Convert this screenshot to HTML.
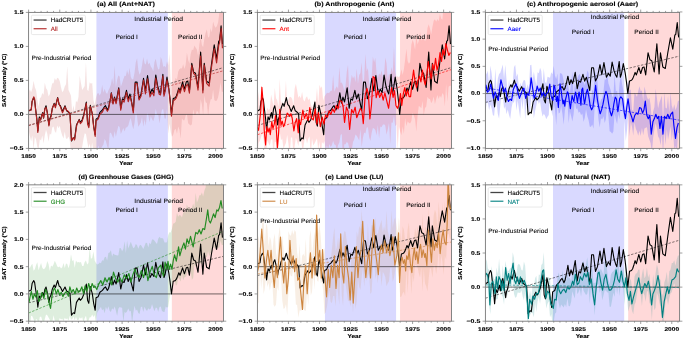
<!DOCTYPE html>
<html><head><meta charset="utf-8"><style>
html,body{margin:0;padding:0;background:#fff;width:685px;height:340px;overflow:hidden;}
svg{display:block;will-change:transform;}
text{font-family:"Liberation Sans", sans-serif;text-rendering:geometricPrecision;}
.tk{font-size:5.5px;font-weight:bold;fill:#000;stroke:#000;stroke-width:0.12px;}
.lb{font-size:5.6px;font-weight:bold;fill:#000;stroke:#000;stroke-width:0.12px;}
.tt{font-size:6.25px;font-weight:bold;fill:#000;stroke:#000;stroke-width:0.12px;}
.pl{font-size:6.25px;fill:#000;stroke:#000;stroke-width:0.06px;}
.lg{font-size:6.25px;fill:#000;stroke:#000;stroke-width:0.1px;}
</style></head><body>
<svg width="685" height="340" viewBox="0 0 685 340">
<rect width="685" height="340" fill="#fff"/>
<clipPath id="clipa"><rect x="28.6" y="12.4" width="194.85" height="136"/></clipPath>
<g clip-path="url(#clipa)">
<rect x="96.42" y="12.4" width="71.43" height="136" fill="#d9d9ff"/>
<rect x="171.84" y="12.4" width="51.61" height="136" fill="#ffd9d9"/>
<polygon points="27.98,92.46 28.6,92.46 29.85,89.24 31.09,92.25 32.34,88.4 33.59,80.76 34.83,87.14 36.08,90.17 37.33,99.49 38.57,106.76 39.82,98.43 41.07,97.03 42.31,93 43.56,94.85 44.81,82.86 46.05,88.24 47.3,89.94 48.55,96.41 49.79,94.27 51.04,88.56 52.29,83.37 53.53,83.28 54.78,77.92 56.03,80.54 57.27,77.75 58.52,78.58 59.77,81.19 61.01,87.33 62.26,92.18 63.51,90.4 64.75,86.57 66,84.15 67.25,66.36 68.49,89.92 69.74,92.71 70.99,95.64 72.23,112 73.48,105.24 74.73,112.16 75.97,100.85 77.22,102.44 78.47,97.03 79.71,75.63 80.96,83.25 82.21,90.05 83.45,88.1 84.7,85.99 85.95,62.17 87.19,89.77 88.44,91.04 89.69,82.31 90.93,83.68 92.18,82.89 93.43,99.95 94.67,104.86 95.92,98.07 97.17,93.83 98.41,92.93 99.66,95.43 100.91,93.25 102.15,84.99 103.4,92.67 104.65,88.82 105.89,92.41 107.14,93.98 108.39,90.43 109.63,88.01 110.88,84.81 112.12,78.08 113.37,84.73 114.62,65.47 115.86,87.9 117.11,79.99 118.36,75.57 119.6,76.49 120.85,86.67 122.1,83.14 123.34,79.31 124.59,75.77 125.84,76.06 127.08,70.11 128.33,74.94 129.58,68.02 130.82,77.11 132.07,79.51 133.32,79.12 134.56,72.48 135.81,62.15 137.06,58.15 138.3,69.84 139.55,74.83 140.8,72.04 142.04,65.51 143.29,57.08 144.54,63.22 145.78,64.55 147.03,58.57 148.28,64.4 149.52,62.71 150.77,66.48 152.02,68.37 153.26,71.55 154.51,62.09 155.76,58.82 157,65.59 158.25,69.73 159.5,68.59 160.74,56.97 161.99,60 163.24,66.8 164.48,66.04 165.73,67.47 166.98,61.17 168.22,65.08 169.47,54.04 170.72,83.61 171.96,86.21 173.21,81.32 174.46,81.84 175.7,77.8 176.95,79.8 178.2,71.72 179.44,69.3 180.69,68.15 181.94,68.42 183.18,64.31 184.43,69.12 185.68,64.73 186.92,52.69 188.17,59.9 189.42,63.83 190.66,54.24 191.91,49.45 193.16,50.23 194.4,45.38 195.65,47.8 196.9,49.59 198.14,56.28 199.39,44.37 200.64,36.7 201.88,45.09 203.13,47.14 204.38,38.62 205.62,33.1 206.87,29.4 208.12,37.85 209.36,36.55 210.61,28.21 211.86,32.38 213.1,21.61 214.35,25.71 215.6,27.82 216.84,26.25 218.09,22.53 219.34,13.12 220.58,6.09 221.83,12.53 223.45,12.53 223.45,91.72 221.83,91.72 220.58,82.22 219.34,91.08 218.09,97.28 216.84,100.53 215.6,100.93 214.35,100.1 213.1,89.58 211.86,98.96 210.61,99.55 209.36,104.92 208.12,115.52 206.87,102.92 205.62,102.16 204.38,95.4 203.13,115.23 201.88,104.37 200.64,99.23 199.39,115.18 198.14,112.15 196.9,110.86 195.65,114.45 194.4,114.72 193.16,109.28 191.91,124.37 190.66,125.6 189.42,124.62 188.17,123.26 186.92,114.05 185.68,115.51 184.43,120.31 183.18,120.22 181.94,118.19 180.69,138.52 179.44,129.8 178.2,126.41 176.95,133.8 175.7,128.83 174.46,129.96 173.21,134.75 171.96,136.65 170.72,132 169.47,123.78 168.22,133.75 166.98,108.67 165.73,118.82 164.48,118.31 163.24,109.12 161.99,109.69 160.74,115.14 159.5,123.59 158.25,114.44 157,114.69 155.76,108.78 154.51,117 153.26,121.31 152.02,118.98 150.77,116.15 149.52,122.27 148.28,114.88 147.03,112.89 145.78,125.87 144.54,119.2 143.29,126.78 142.04,116.72 140.8,122.52 139.55,124.86 138.3,126.8 137.06,116.96 135.81,111.22 134.56,122.79 133.32,129.28 132.07,124.44 130.82,117.99 129.58,120.74 128.33,125.42 127.08,127.18 125.84,127.43 124.59,131.45 123.34,128.12 122.1,130.99 120.85,133.94 119.6,126.98 118.36,125.82 117.11,130.97 115.86,136.63 114.62,130.9 113.37,138.6 112.12,135.39 110.88,132.62 109.63,133.38 108.39,149.73 107.14,146.02 105.89,140.92 104.65,139.07 103.4,144.46 102.15,146.51 100.91,148.86 99.66,149.87 98.41,145.48 97.17,149.89 95.92,151.54 94.67,155.45 93.43,153.35 92.18,142.6 90.93,151.64 89.69,143.48 88.44,147.97 87.19,141.22 85.95,134.03 84.7,133.31 83.45,139.26 82.21,146.65 80.96,153.05 79.71,154.61 78.47,155.15 77.22,163.09 75.97,156.9 74.73,157.63 73.48,158.41 72.23,155.46 70.99,153.98 69.74,140.23 68.49,136.58 67.25,138.75 66,138.7 64.75,131.41 63.51,138.61 62.26,135.5 61.01,131.59 59.77,125.78 58.52,128.17 57.27,125.48 56.03,132.95 54.78,131.15 53.53,126.48 52.29,127.48 51.04,134.68 49.79,133.44 48.55,141.87 47.3,134.08 46.05,129.65 44.81,135.2 43.56,143.39 42.31,135.5 41.07,140.51 39.82,139.13 38.57,148.85 37.33,146.95 36.08,139.83 34.83,136.72 33.59,149.7 32.34,135.16 31.09,141.23 29.85,135.95 28.6,129.85 27.98,129.85" fill="#b22222" fill-opacity="0.13" stroke="none"/>
<line x1="28.6" x2="223.45" y1="114.4" y2="114.4" stroke="#000" stroke-width="0.7" stroke-opacity="0.8"/>
<line x1="28.6" y1="125.48" x2="223.45" y2="67.55" stroke="#000" stroke-width="0.6" stroke-opacity="0.85" stroke-dasharray="2.4,1.5"/>
<line x1="28.6" y1="125.48" x2="223.45" y2="70.74" stroke="#b22222" stroke-width="0.6" stroke-dasharray="2.4,1.5"/>
<text x="158.62" y="20.6" text-anchor="middle" textLength="48.6" lengthAdjust="spacingAndGlyphs" class="pl">Industrial Period</text>
<text x="126.65" y="39.25" text-anchor="middle" textLength="22.5" lengthAdjust="spacingAndGlyphs" class="pl">Period I</text>
<text x="190.29" y="39.25" text-anchor="middle" textLength="24.5" lengthAdjust="spacingAndGlyphs" class="pl">Period II</text>
<text x="61.45" y="60.1" text-anchor="middle" textLength="59.9" lengthAdjust="spacingAndGlyphs" class="pl">Pre-Industrial Period</text>
<polyline points="28.6,111 29.1,110.8 31.22,109.5 32.09,101.48 33.71,97.81 34.58,99.71 35.46,107.6 36.83,118.82 37.83,131.06 38.7,122.56 39.32,116.92 40.57,119.84 41.69,115.76 42.69,112.63 43.56,118.14 44.81,108.96 46.05,105.76 47.3,112.63 48.92,125.01 49.79,118.82 51.04,115.76 52.29,108.48 54.16,103.38 55.4,106.38 57.65,97.6 59.14,104.61 60.39,105.76 62.51,111.41 65,105.76 66.62,110.8 68.37,112.02 69.99,113.92 71.48,140.92 73.35,137.86 74.6,138.88 76.47,124.94 77.09,123.72 79.21,119.43 80.34,122.42 82.08,119.98 83.7,115.01 86.32,102.16 87.57,122.42 88.81,126.1 90.31,105.22 92.3,113.92 93.67,126.1 95.17,134.8 96.04,119.16 98.16,117.8 99.91,112.36 102.4,109.98 104.27,106.92 105.52,105.7 107.39,109.98 108.51,107.6 110.01,100.8 111.38,92.71 113,103.18 114.49,97.13 116.11,101.96 118.73,87.88 120.73,108.28 122.47,98.9 124.09,100.12 126.46,90.33 128.21,98.9 129.95,94 131.45,101.48 133.32,110.59 135.19,82.17 137.06,82.17 139.05,98.76 141.05,94 143.54,78.36 145.41,90.8 147.53,75.64 150.02,94 152.02,89.24 153.89,92.64 155.76,74.96 157.63,85.84 159.25,91.28 160.49,94 162.86,74.28 163.99,94 165.11,89.92 166.98,77 168.85,88.56 170.09,99.44 171.47,114.4 173.21,98.62 175.2,97.81 176.33,96.04 177.57,92.3 178.82,88.02 180.07,91.14 182.56,81.83 184.43,89.31 186.3,81.83 187.8,81.22 189.42,91.14 191.79,63.4 193.66,72.1 195.53,73.26 198.02,87.4 200.64,52.11 202.88,89.92 204.25,63.4 206.62,81.22 209.11,83.12 211.61,63.4 214.22,44.77 216.59,58.91 218.71,41.1 219.59,40.48 221.08,25.73 222.45,44.16" fill="none" stroke="#000" stroke-width="1.1" stroke-linejoin="round"/>
<polyline points="28.6,110.86 29.1,110.24 31.22,110.12 32.09,101.51 33.71,96.82 34.58,98.73 35.46,108.73 36.83,119.75 37.83,132.43 38.7,122.89 39.32,118.37 40.57,120.15 41.69,115.57 42.69,113.47 43.56,117.91 44.81,108.98 46.05,107.35 47.3,112.78 48.92,126 49.79,119.4 51.04,116.72 52.29,108.35 54.16,103.97 55.4,107.75 57.65,97.96 59.14,104.35 60.39,106.81 62.51,112.72 65,106.67 66.62,110.23 68.37,111.38 69.99,114.13 71.48,140.53 73.35,137.65 74.6,139.97 76.47,126.83 77.09,124.09 79.21,120.1 80.34,123.65 82.08,121.6 83.7,116.17 86.32,103.19 87.57,124.02 88.81,127.65 90.31,106.35 92.3,113.99 93.67,126.93 95.17,136.48 96.04,120.87 98.16,119.06 99.91,114.33 102.4,112 104.27,108.12 105.52,108.08 107.39,111.32 108.51,109.29 110.01,101.57 111.38,93.39 113,104.04 114.49,98.02 116.11,103.74 118.73,88.9 120.73,110.23 122.47,100.24 124.09,102.16 126.46,92.08 128.21,101.72 129.95,96.36 131.45,101.88 133.32,113.04 135.19,83.4 137.06,83.54 139.05,99.96 141.05,95.91 143.54,79.98 145.41,93.9 147.53,78.75 150.02,96.81 152.02,92.21 153.89,95.78 155.76,78.05 157.63,87.81 159.25,94.27 160.49,94.93 162.86,75.99 163.99,96.11 165.11,91.6 166.98,79.91 168.85,89.7 170.09,100.84 171.47,116.13 173.21,101.05 175.2,99.28 176.33,97.8 177.57,94.31 178.82,89.35 180.07,93.26 182.56,84.72 184.43,91.72 186.3,85.24 187.8,84.66 189.42,93.17 191.79,65.3 193.66,73.53 195.53,75.04 198.02,90.06 200.64,56.05 202.88,92.81 204.25,65.12 206.62,83.35 209.11,86.12 211.61,66.52 214.22,48.58 216.59,62.87 218.71,45.37 219.59,42.55 221.08,28.5 222.45,48.31" fill="none" stroke="#b22222" stroke-width="1.15" stroke-linejoin="round"/>
</g>
<rect x="31.4" y="15.2" width="54" height="19.4" rx="1.2" fill="#fff" fill-opacity="0.8" stroke="#d8d8d8" stroke-width="0.6"/>
<line x1="33.6" x2="46.6" y1="20.05" y2="20.05" stroke="#444" stroke-width="1.3"/>
<line x1="33.6" x2="46.6" y1="28.75" y2="28.75" stroke="#b22222" stroke-width="1.1"/>
<text x="50.8" y="22.35" text-anchor="start" textLength="32.5" lengthAdjust="spacingAndGlyphs" class="lg">HadCRUT5</text>
<text x="50.8" y="31.1" text-anchor="start" class="lg" style="fill:#b22222;stroke:#b22222">All</text>
<rect x="28.6" y="12.4" width="194.85" height="136" fill="none" stroke="#777" stroke-width="0.9"/>
<line x1="28.6" x2="28.6" y1="148.4" y2="151.2" stroke="#777" stroke-width="0.7"/>
<line x1="28.6" x2="28.6" y1="12.4" y2="9.6" stroke="#777" stroke-width="0.7"/>
<text x="28.6" y="157.9" text-anchor="middle" textLength="14.6" lengthAdjust="spacingAndGlyphs" class="tk">1850</text>
<line x1="34.83" x2="34.83" y1="148.4" y2="149.9" stroke="#777" stroke-width="0.7"/>
<line x1="34.83" x2="34.83" y1="12.4" y2="10.9" stroke="#777" stroke-width="0.7"/>
<line x1="41.07" x2="41.07" y1="148.4" y2="149.9" stroke="#777" stroke-width="0.7"/>
<line x1="41.07" x2="41.07" y1="12.4" y2="10.9" stroke="#777" stroke-width="0.7"/>
<line x1="47.3" x2="47.3" y1="148.4" y2="149.9" stroke="#777" stroke-width="0.7"/>
<line x1="47.3" x2="47.3" y1="12.4" y2="10.9" stroke="#777" stroke-width="0.7"/>
<line x1="53.53" x2="53.53" y1="148.4" y2="149.9" stroke="#777" stroke-width="0.7"/>
<line x1="53.53" x2="53.53" y1="12.4" y2="10.9" stroke="#777" stroke-width="0.7"/>
<line x1="59.77" x2="59.77" y1="148.4" y2="151.2" stroke="#777" stroke-width="0.7"/>
<line x1="59.77" x2="59.77" y1="12.4" y2="9.6" stroke="#777" stroke-width="0.7"/>
<text x="59.77" y="157.9" text-anchor="middle" textLength="14.6" lengthAdjust="spacingAndGlyphs" class="tk">1875</text>
<line x1="66" x2="66" y1="148.4" y2="149.9" stroke="#777" stroke-width="0.7"/>
<line x1="66" x2="66" y1="12.4" y2="10.9" stroke="#777" stroke-width="0.7"/>
<line x1="72.23" x2="72.23" y1="148.4" y2="149.9" stroke="#777" stroke-width="0.7"/>
<line x1="72.23" x2="72.23" y1="12.4" y2="10.9" stroke="#777" stroke-width="0.7"/>
<line x1="78.47" x2="78.47" y1="148.4" y2="149.9" stroke="#777" stroke-width="0.7"/>
<line x1="78.47" x2="78.47" y1="12.4" y2="10.9" stroke="#777" stroke-width="0.7"/>
<line x1="84.7" x2="84.7" y1="148.4" y2="149.9" stroke="#777" stroke-width="0.7"/>
<line x1="84.7" x2="84.7" y1="12.4" y2="10.9" stroke="#777" stroke-width="0.7"/>
<line x1="90.93" x2="90.93" y1="148.4" y2="151.2" stroke="#777" stroke-width="0.7"/>
<line x1="90.93" x2="90.93" y1="12.4" y2="9.6" stroke="#777" stroke-width="0.7"/>
<text x="90.93" y="157.9" text-anchor="middle" textLength="14.6" lengthAdjust="spacingAndGlyphs" class="tk">1900</text>
<line x1="97.17" x2="97.17" y1="148.4" y2="149.9" stroke="#777" stroke-width="0.7"/>
<line x1="97.17" x2="97.17" y1="12.4" y2="10.9" stroke="#777" stroke-width="0.7"/>
<line x1="103.4" x2="103.4" y1="148.4" y2="149.9" stroke="#777" stroke-width="0.7"/>
<line x1="103.4" x2="103.4" y1="12.4" y2="10.9" stroke="#777" stroke-width="0.7"/>
<line x1="109.63" x2="109.63" y1="148.4" y2="149.9" stroke="#777" stroke-width="0.7"/>
<line x1="109.63" x2="109.63" y1="12.4" y2="10.9" stroke="#777" stroke-width="0.7"/>
<line x1="115.86" x2="115.86" y1="148.4" y2="149.9" stroke="#777" stroke-width="0.7"/>
<line x1="115.86" x2="115.86" y1="12.4" y2="10.9" stroke="#777" stroke-width="0.7"/>
<line x1="122.1" x2="122.1" y1="148.4" y2="151.2" stroke="#777" stroke-width="0.7"/>
<line x1="122.1" x2="122.1" y1="12.4" y2="9.6" stroke="#777" stroke-width="0.7"/>
<text x="122.1" y="157.9" text-anchor="middle" textLength="14.6" lengthAdjust="spacingAndGlyphs" class="tk">1925</text>
<line x1="128.33" x2="128.33" y1="148.4" y2="149.9" stroke="#777" stroke-width="0.7"/>
<line x1="128.33" x2="128.33" y1="12.4" y2="10.9" stroke="#777" stroke-width="0.7"/>
<line x1="134.56" x2="134.56" y1="148.4" y2="149.9" stroke="#777" stroke-width="0.7"/>
<line x1="134.56" x2="134.56" y1="12.4" y2="10.9" stroke="#777" stroke-width="0.7"/>
<line x1="140.8" x2="140.8" y1="148.4" y2="149.9" stroke="#777" stroke-width="0.7"/>
<line x1="140.8" x2="140.8" y1="12.4" y2="10.9" stroke="#777" stroke-width="0.7"/>
<line x1="147.03" x2="147.03" y1="148.4" y2="149.9" stroke="#777" stroke-width="0.7"/>
<line x1="147.03" x2="147.03" y1="12.4" y2="10.9" stroke="#777" stroke-width="0.7"/>
<line x1="153.26" x2="153.26" y1="148.4" y2="151.2" stroke="#777" stroke-width="0.7"/>
<line x1="153.26" x2="153.26" y1="12.4" y2="9.6" stroke="#777" stroke-width="0.7"/>
<text x="153.26" y="157.9" text-anchor="middle" textLength="14.6" lengthAdjust="spacingAndGlyphs" class="tk">1950</text>
<line x1="159.5" x2="159.5" y1="148.4" y2="149.9" stroke="#777" stroke-width="0.7"/>
<line x1="159.5" x2="159.5" y1="12.4" y2="10.9" stroke="#777" stroke-width="0.7"/>
<line x1="165.73" x2="165.73" y1="148.4" y2="149.9" stroke="#777" stroke-width="0.7"/>
<line x1="165.73" x2="165.73" y1="12.4" y2="10.9" stroke="#777" stroke-width="0.7"/>
<line x1="171.96" x2="171.96" y1="148.4" y2="149.9" stroke="#777" stroke-width="0.7"/>
<line x1="171.96" x2="171.96" y1="12.4" y2="10.9" stroke="#777" stroke-width="0.7"/>
<line x1="178.2" x2="178.2" y1="148.4" y2="149.9" stroke="#777" stroke-width="0.7"/>
<line x1="178.2" x2="178.2" y1="12.4" y2="10.9" stroke="#777" stroke-width="0.7"/>
<line x1="184.43" x2="184.43" y1="148.4" y2="151.2" stroke="#777" stroke-width="0.7"/>
<line x1="184.43" x2="184.43" y1="12.4" y2="9.6" stroke="#777" stroke-width="0.7"/>
<text x="184.43" y="157.9" text-anchor="middle" textLength="14.6" lengthAdjust="spacingAndGlyphs" class="tk">1975</text>
<line x1="190.66" x2="190.66" y1="148.4" y2="149.9" stroke="#777" stroke-width="0.7"/>
<line x1="190.66" x2="190.66" y1="12.4" y2="10.9" stroke="#777" stroke-width="0.7"/>
<line x1="196.9" x2="196.9" y1="148.4" y2="149.9" stroke="#777" stroke-width="0.7"/>
<line x1="196.9" x2="196.9" y1="12.4" y2="10.9" stroke="#777" stroke-width="0.7"/>
<line x1="203.13" x2="203.13" y1="148.4" y2="149.9" stroke="#777" stroke-width="0.7"/>
<line x1="203.13" x2="203.13" y1="12.4" y2="10.9" stroke="#777" stroke-width="0.7"/>
<line x1="209.36" x2="209.36" y1="148.4" y2="149.9" stroke="#777" stroke-width="0.7"/>
<line x1="209.36" x2="209.36" y1="12.4" y2="10.9" stroke="#777" stroke-width="0.7"/>
<line x1="215.6" x2="215.6" y1="148.4" y2="151.2" stroke="#777" stroke-width="0.7"/>
<line x1="215.6" x2="215.6" y1="12.4" y2="9.6" stroke="#777" stroke-width="0.7"/>
<text x="215.6" y="157.9" text-anchor="middle" textLength="14.6" lengthAdjust="spacingAndGlyphs" class="tk">2000</text>
<line x1="221.83" x2="221.83" y1="148.4" y2="149.9" stroke="#777" stroke-width="0.7"/>
<line x1="221.83" x2="221.83" y1="12.4" y2="10.9" stroke="#777" stroke-width="0.7"/>
<line x1="25.8" x2="28.6" y1="148.4" y2="148.4" stroke="#777" stroke-width="0.7"/>
<line x1="223.45" x2="226.25" y1="148.4" y2="148.4" stroke="#777" stroke-width="0.7"/>
<text x="23.5" y="150.3" text-anchor="end" textLength="13.8" lengthAdjust="spacingAndGlyphs" class="tk">−0.5</text>
<line x1="25.8" x2="28.6" y1="114.4" y2="114.4" stroke="#777" stroke-width="0.7"/>
<line x1="223.45" x2="226.25" y1="114.4" y2="114.4" stroke="#777" stroke-width="0.7"/>
<text x="23.5" y="116.3" text-anchor="end" textLength="9.4" lengthAdjust="spacingAndGlyphs" class="tk">0.0</text>
<line x1="25.8" x2="28.6" y1="80.4" y2="80.4" stroke="#777" stroke-width="0.7"/>
<line x1="223.45" x2="226.25" y1="80.4" y2="80.4" stroke="#777" stroke-width="0.7"/>
<text x="23.5" y="82.3" text-anchor="end" textLength="9.4" lengthAdjust="spacingAndGlyphs" class="tk">0.5</text>
<line x1="25.8" x2="28.6" y1="46.4" y2="46.4" stroke="#777" stroke-width="0.7"/>
<line x1="223.45" x2="226.25" y1="46.4" y2="46.4" stroke="#777" stroke-width="0.7"/>
<text x="23.5" y="48.3" text-anchor="end" textLength="9.4" lengthAdjust="spacingAndGlyphs" class="tk">1.0</text>
<line x1="25.8" x2="28.6" y1="12.4" y2="12.4" stroke="#777" stroke-width="0.7"/>
<line x1="223.45" x2="226.25" y1="12.4" y2="12.4" stroke="#777" stroke-width="0.7"/>
<text x="23.5" y="14.3" text-anchor="end" textLength="9.4" lengthAdjust="spacingAndGlyphs" class="tk">1.5</text>
<text x="126.03" y="164.7" text-anchor="middle" textLength="13.6" lengthAdjust="spacingAndGlyphs" class="lb">Year</text>
<text x="126.03" y="6.1" text-anchor="middle" textLength="57.9" lengthAdjust="spacingAndGlyphs" class="tt">(a) All (Ant+NAT)</text>
<text transform="translate(6.4,80.4) rotate(-90)" text-anchor="middle" textLength="53.4" lengthAdjust="spacingAndGlyphs" class="lb">SAT Anomaly (°C)</text>
<clipPath id="clipb"><rect x="257.4" y="12.4" width="194.05" height="136"/></clipPath>
<g clip-path="url(#clipb)">
<rect x="324.94" y="12.4" width="71.14" height="136" fill="#d9d9ff"/>
<rect x="400.05" y="12.4" width="51.4" height="136" fill="#ffd9d9"/>
<polygon points="256.78,105.99 257.4,105.99 258.64,91.33 259.88,109.61 261.12,89.02 262.37,93.39 263.61,107.76 264.85,115.7 266.09,113.92 267.33,107.62 268.57,110.33 269.82,108.7 271.06,94.48 272.3,100.04 273.54,106.52 274.78,87.71 276.02,98.36 277.26,100.29 278.51,106.41 279.75,78.73 280.99,103.81 282.23,100.75 283.47,109.22 284.71,100.2 285.96,80.67 287.2,106.12 288.44,99.21 289.68,96.77 290.92,96.96 292.16,98.86 293.4,105.13 294.65,88.5 295.89,83.75 297.13,90.23 298.37,97.82 299.61,95.76 300.85,98.34 302.09,91.63 303.34,99.57 304.58,101.57 305.82,97.63 307.06,96.25 308.3,100.35 309.54,98.37 310.79,104.44 312.03,107.02 313.27,107.98 314.51,99.65 315.75,102.47 316.99,87.78 318.23,104.23 319.48,84.81 320.72,88.33 321.96,86.17 323.2,100.85 324.44,96.15 325.68,94.68 326.93,92.65 328.17,93 329.41,92.78 330.65,90.83 331.89,90.79 333.13,74.69 334.37,91.75 335.62,88.33 336.86,86.37 338.1,89.04 339.34,66.88 340.58,82.89 341.82,82.4 343.07,85.77 344.31,91.12 345.55,85.76 346.79,71.84 348.03,64.77 349.27,92.68 350.51,82.89 351.76,74.83 353,78.44 354.24,75.95 355.48,82.24 356.72,68.44 357.96,83.63 359.2,74.97 360.45,72.99 361.69,62.16 362.93,84.97 364.17,78.3 365.41,53.8 366.65,71.32 367.9,68.09 369.14,82.78 370.38,88.03 371.62,77.74 372.86,56.42 374.1,62.28 375.34,57.74 376.59,73.25 377.83,78.6 379.07,73.29 380.31,75.28 381.55,70.47 382.79,77.19 384.04,75.31 385.28,57.46 386.52,63.37 387.76,79.63 389,73.53 390.24,75.78 391.48,67.05 392.73,73.08 393.97,46.65 395.21,71.79 396.45,77.09 397.69,76.23 398.93,77.15 400.18,74.94 401.42,69.17 402.66,75.04 403.9,69.31 405.14,59.55 406.38,48.87 407.62,60.9 408.87,63.86 410.11,61.99 411.35,44.69 412.59,39.72 413.83,43.28 415.07,49.83 416.31,34.94 417.56,44.59 418.8,40.8 420.04,31.75 421.28,40.39 422.52,39.2 423.76,37.15 425.01,41.4 426.25,38.57 427.49,27.88 428.73,24.22 429.97,28.59 431.21,34.35 432.45,26.78 433.7,20.68 434.94,19.2 436.18,21.85 437.42,18.92 438.66,21.26 439.9,13.86 441.15,18.56 442.39,19.77 443.63,4.72 444.87,13.83 446.11,6.78 447.35,8.73 448.59,12.49 449.84,2.34 451.45,2.34 451.45,85.81 449.84,85.81 448.59,86.87 447.35,101.72 446.11,83.93 444.87,106.41 443.63,94.97 442.39,92.96 441.15,97.97 439.9,95.47 438.66,99.09 437.42,95.01 436.18,98.94 434.94,104.37 433.7,96.48 432.45,100.95 431.21,103.26 429.97,99.11 428.73,98.64 427.49,96.67 426.25,106.62 425.01,108.01 423.76,115.57 422.52,101 421.28,108.35 420.04,106.77 418.8,106.08 417.56,116.16 416.31,131.84 415.07,119.13 413.83,115.5 412.59,112.75 411.35,121.04 410.11,123.47 408.87,122.71 407.62,121.39 406.38,126.17 405.14,117.92 403.9,134.05 402.66,126.48 401.42,135.14 400.18,131.39 398.93,126.47 397.69,150.02 396.45,124.59 395.21,126.19 393.97,116.06 392.73,122.7 391.48,122.45 390.24,144.21 389,123.04 387.76,129.43 386.52,134.84 385.28,125.41 384.04,124.21 382.79,124.65 381.55,127.15 380.31,126.56 379.07,138.39 377.83,125.06 376.59,135.6 375.34,129.91 374.1,128.38 372.86,127.96 371.62,132.89 370.38,141 369.14,136.97 367.9,127.28 366.65,127.5 365.41,133.62 364.17,132.51 362.93,137.74 361.69,147.34 360.45,129.08 359.2,140.58 357.96,137.95 356.72,135.64 355.48,134.45 354.24,139.45 353,142.08 351.76,149.85 350.51,156.07 349.27,148.05 348.03,143.15 346.79,141.82 345.55,144.27 344.31,144.19 343.07,163.94 341.82,133.98 340.58,134.98 339.34,142.5 338.1,145.02 336.86,150.7 335.62,145.09 334.37,144.52 333.13,140.81 331.89,145.17 330.65,146.96 329.41,144.07 328.17,149.65 326.93,145.16 325.68,150.45 324.44,141.11 323.2,143.92 321.96,141.94 320.72,159.82 319.48,141.32 318.23,150.14 316.99,138.39 315.75,140.99 314.51,143.61 313.27,145.48 312.03,138.57 310.79,156.07 309.54,136.18 308.3,138.86 307.06,143.49 305.82,138.29 304.58,139.6 303.34,148.43 302.09,147.84 300.85,137.36 299.61,137.31 298.37,146.3 297.13,141.65 295.89,137.7 294.65,146.4 293.4,153.58 292.16,137.48 290.92,137.49 289.68,155.43 288.44,143.92 287.2,134.89 285.96,143.05 284.71,145.72 283.47,149.12 282.23,138.63 280.99,140.32 279.75,131.63 278.51,145.67 277.26,152.46 276.02,142.05 274.78,141.83 273.54,155.97 272.3,139.18 271.06,139.57 269.82,145.68 268.57,143.28 267.33,140.43 266.09,154.27 264.85,156.08 263.61,139.29 262.37,132.89 261.12,137.01 259.88,140.67 258.64,143.11 257.4,157.97 256.78,157.97" fill="#ff0000" fill-opacity="0.13" stroke="none"/>
<line x1="257.4" x2="451.45" y1="114.4" y2="114.4" stroke="#000" stroke-width="0.7" stroke-opacity="0.8"/>
<line x1="257.4" y1="125.48" x2="451.45" y2="67.55" stroke="#000" stroke-width="0.6" stroke-opacity="0.85" stroke-dasharray="2.4,1.5"/>
<line x1="257.4" y1="134.76" x2="451.45" y2="69.52" stroke="#ff0000" stroke-width="0.6" stroke-dasharray="2.4,1.5"/>
<text x="386.89" y="20.6" text-anchor="middle" textLength="48.6" lengthAdjust="spacingAndGlyphs" class="pl">Industrial Period</text>
<text x="355.05" y="39.25" text-anchor="middle" textLength="22.5" lengthAdjust="spacingAndGlyphs" class="pl">Period I</text>
<text x="418.43" y="39.25" text-anchor="middle" textLength="24.5" lengthAdjust="spacingAndGlyphs" class="pl">Period II</text>
<text x="290.11" y="60.1" text-anchor="middle" textLength="59.9" lengthAdjust="spacingAndGlyphs" class="pl">Pre-Industrial Period</text>
<polyline points="257.4,111 257.9,110.8 260.01,109.5 260.88,101.48 262.49,97.81 263.36,99.71 264.23,107.6 265.59,118.82 266.59,131.06 267.46,122.56 268.08,116.92 269.32,119.84 270.44,115.76 271.43,112.63 272.3,118.14 273.54,108.96 274.78,105.76 276.02,112.63 277.64,125.01 278.51,118.82 279.75,115.76 280.99,108.48 282.85,103.38 284.09,106.38 286.33,97.6 287.82,104.61 289.06,105.76 291.17,111.41 293.65,105.76 295.27,110.8 297,112.02 298.62,113.92 300.11,140.92 301.97,137.86 303.21,138.88 305.07,124.94 305.7,123.72 307.81,119.43 308.92,122.42 310.66,119.98 312.28,115.01 314.88,102.16 316.12,122.42 317.37,126.1 318.86,105.22 320.84,113.92 322.21,126.1 323.7,134.8 324.57,119.16 326.68,117.8 328.42,112.36 330.9,109.98 332.76,106.92 334,105.7 335.86,109.98 336.98,107.6 338.47,100.8 339.84,92.71 341.45,103.18 342.94,97.13 344.55,101.96 347.16,87.88 349.15,108.28 350.89,98.9 352.5,100.12 354.86,90.33 356.6,98.9 358.34,94 359.83,101.48 361.69,110.59 363.55,82.17 365.41,82.17 367.4,98.76 369.39,94 371.87,78.36 373.73,90.8 375.84,75.64 378.32,94 380.31,89.24 382.17,92.64 384.04,74.96 385.9,85.84 387.51,91.28 388.75,94 391.11,74.28 392.23,94 393.35,89.92 395.21,77 397.07,88.56 398.31,99.44 399.68,114.4 401.42,98.62 403.4,97.81 404.52,96.04 405.76,92.3 407,88.02 408.25,91.14 410.73,81.83 412.59,89.31 414.45,81.83 415.94,81.22 417.56,91.14 419.92,63.4 421.78,72.1 423.64,73.26 426.12,87.4 428.73,52.11 430.96,89.92 432.33,63.4 434.69,81.22 437.17,83.12 439.66,63.4 442.26,44.77 444.62,58.91 446.73,41.1 447.6,40.48 449.09,25.73 450.46,44.16" fill="none" stroke="#000" stroke-width="1.1" stroke-linejoin="round"/>
<polyline points="257.03,126.64 258.52,130.31 260.75,111 261.87,87.2 263.24,103.52 264.23,130.31 265.59,145 266.84,126.64 268.08,132.08 269.19,128 270.31,134.6 271.8,121.68 272.92,128.48 274.28,124.12 275.53,115.49 276.52,132.76 277.39,148.2 278.63,132.76 279.75,109.3 280.99,125.42 282.23,121.2 283.47,126.64 284.71,124.12 285.96,117.8 287.2,113.04 288.44,114.4 289.68,116.44 290.92,113.72 292.16,118 293.9,130.92 295.14,122.9 296.63,118.62 298.25,132.76 298.74,119.5 300.6,124.6 302.84,110.12 304.45,118.28 306.32,113.58 308.18,120.72 309.79,107.67 311.53,118.28 313.27,119.84 315.25,108.89 316.87,124.19 318.48,112.5 320.35,126.64 322.21,117.12 323.95,124.19 325.56,114.81 327.42,117.12 329.28,111.27 330.9,114.4 332.64,108.89 334.37,112.36 336.36,105.42 338.1,108.96 339.59,100.8 341.7,101.28 343.07,106.24 344.55,122.49 346.42,107.19 348.03,111 349.65,129.5 351.63,109.5 353.37,113.04 355.11,107.19 356.72,117.73 358.58,113.04 360.45,108.28 361.94,111 363.3,123.58 365.16,95.43 366.9,88.29 368.39,94 369.88,118.89 371.5,104.81 373.11,76.59 374.6,77.68 376.21,97.67 377.83,90.67 379.69,97.4 381.55,92.98 383.17,100.12 384.9,92.98 387.14,102.5 388.63,108.28 390.12,96.58 391.61,87.68 393.1,97.4 394.46,90.67 395.95,105.42 397.44,108.28 398.93,104.2 400.42,93.59 401.79,105.42 403.28,94 404.77,87.68 406.26,96.04 407.62,89.92 409.11,96.58 410.6,96.58 412.09,81.9 413.58,70.13 415.07,81.9 416.56,87.68 418.05,80.4 419.42,75.98 420.91,81.9 422.4,70.13 423.76,79.04 425.25,84.82 426.74,75.98 428.23,61.36 429.72,70.2 431.21,78.9 432.7,64.08 434.07,70.2 435.56,58.3 437.05,70.2 438.54,64.08 440.03,52.52 441.52,61.36 443.01,49.53 444.37,55.24 445.86,43.68 447.35,49.8 448.84,55.44 450.33,52.52" fill="none" stroke="#ff0000" stroke-width="1.15" stroke-linejoin="round"/>
</g>
<rect x="260.2" y="15.2" width="54" height="19.4" rx="1.2" fill="#fff" fill-opacity="0.8" stroke="#d8d8d8" stroke-width="0.6"/>
<line x1="262.4" x2="275.4" y1="20.05" y2="20.05" stroke="#444" stroke-width="1.3"/>
<line x1="262.4" x2="275.4" y1="28.75" y2="28.75" stroke="#ff0000" stroke-width="1.1"/>
<text x="279.6" y="22.35" text-anchor="start" textLength="32.5" lengthAdjust="spacingAndGlyphs" class="lg">HadCRUT5</text>
<text x="279.6" y="31.1" text-anchor="start" class="lg" style="fill:#ff0000;stroke:#ff0000">Ant</text>
<rect x="257.4" y="12.4" width="194.05" height="136" fill="none" stroke="#777" stroke-width="0.9"/>
<line x1="257.4" x2="257.4" y1="148.4" y2="151.2" stroke="#777" stroke-width="0.7"/>
<line x1="257.4" x2="257.4" y1="12.4" y2="9.6" stroke="#777" stroke-width="0.7"/>
<text x="257.4" y="157.9" text-anchor="middle" textLength="14.6" lengthAdjust="spacingAndGlyphs" class="tk">1850</text>
<line x1="263.61" x2="263.61" y1="148.4" y2="149.9" stroke="#777" stroke-width="0.7"/>
<line x1="263.61" x2="263.61" y1="12.4" y2="10.9" stroke="#777" stroke-width="0.7"/>
<line x1="269.82" x2="269.82" y1="148.4" y2="149.9" stroke="#777" stroke-width="0.7"/>
<line x1="269.82" x2="269.82" y1="12.4" y2="10.9" stroke="#777" stroke-width="0.7"/>
<line x1="276.02" x2="276.02" y1="148.4" y2="149.9" stroke="#777" stroke-width="0.7"/>
<line x1="276.02" x2="276.02" y1="12.4" y2="10.9" stroke="#777" stroke-width="0.7"/>
<line x1="282.23" x2="282.23" y1="148.4" y2="149.9" stroke="#777" stroke-width="0.7"/>
<line x1="282.23" x2="282.23" y1="12.4" y2="10.9" stroke="#777" stroke-width="0.7"/>
<line x1="288.44" x2="288.44" y1="148.4" y2="151.2" stroke="#777" stroke-width="0.7"/>
<line x1="288.44" x2="288.44" y1="12.4" y2="9.6" stroke="#777" stroke-width="0.7"/>
<text x="288.44" y="157.9" text-anchor="middle" textLength="14.6" lengthAdjust="spacingAndGlyphs" class="tk">1875</text>
<line x1="294.65" x2="294.65" y1="148.4" y2="149.9" stroke="#777" stroke-width="0.7"/>
<line x1="294.65" x2="294.65" y1="12.4" y2="10.9" stroke="#777" stroke-width="0.7"/>
<line x1="300.85" x2="300.85" y1="148.4" y2="149.9" stroke="#777" stroke-width="0.7"/>
<line x1="300.85" x2="300.85" y1="12.4" y2="10.9" stroke="#777" stroke-width="0.7"/>
<line x1="307.06" x2="307.06" y1="148.4" y2="149.9" stroke="#777" stroke-width="0.7"/>
<line x1="307.06" x2="307.06" y1="12.4" y2="10.9" stroke="#777" stroke-width="0.7"/>
<line x1="313.27" x2="313.27" y1="148.4" y2="149.9" stroke="#777" stroke-width="0.7"/>
<line x1="313.27" x2="313.27" y1="12.4" y2="10.9" stroke="#777" stroke-width="0.7"/>
<line x1="319.48" x2="319.48" y1="148.4" y2="151.2" stroke="#777" stroke-width="0.7"/>
<line x1="319.48" x2="319.48" y1="12.4" y2="9.6" stroke="#777" stroke-width="0.7"/>
<text x="319.48" y="157.9" text-anchor="middle" textLength="14.6" lengthAdjust="spacingAndGlyphs" class="tk">1900</text>
<line x1="325.68" x2="325.68" y1="148.4" y2="149.9" stroke="#777" stroke-width="0.7"/>
<line x1="325.68" x2="325.68" y1="12.4" y2="10.9" stroke="#777" stroke-width="0.7"/>
<line x1="331.89" x2="331.89" y1="148.4" y2="149.9" stroke="#777" stroke-width="0.7"/>
<line x1="331.89" x2="331.89" y1="12.4" y2="10.9" stroke="#777" stroke-width="0.7"/>
<line x1="338.1" x2="338.1" y1="148.4" y2="149.9" stroke="#777" stroke-width="0.7"/>
<line x1="338.1" x2="338.1" y1="12.4" y2="10.9" stroke="#777" stroke-width="0.7"/>
<line x1="344.31" x2="344.31" y1="148.4" y2="149.9" stroke="#777" stroke-width="0.7"/>
<line x1="344.31" x2="344.31" y1="12.4" y2="10.9" stroke="#777" stroke-width="0.7"/>
<line x1="350.51" x2="350.51" y1="148.4" y2="151.2" stroke="#777" stroke-width="0.7"/>
<line x1="350.51" x2="350.51" y1="12.4" y2="9.6" stroke="#777" stroke-width="0.7"/>
<text x="350.51" y="157.9" text-anchor="middle" textLength="14.6" lengthAdjust="spacingAndGlyphs" class="tk">1925</text>
<line x1="356.72" x2="356.72" y1="148.4" y2="149.9" stroke="#777" stroke-width="0.7"/>
<line x1="356.72" x2="356.72" y1="12.4" y2="10.9" stroke="#777" stroke-width="0.7"/>
<line x1="362.93" x2="362.93" y1="148.4" y2="149.9" stroke="#777" stroke-width="0.7"/>
<line x1="362.93" x2="362.93" y1="12.4" y2="10.9" stroke="#777" stroke-width="0.7"/>
<line x1="369.14" x2="369.14" y1="148.4" y2="149.9" stroke="#777" stroke-width="0.7"/>
<line x1="369.14" x2="369.14" y1="12.4" y2="10.9" stroke="#777" stroke-width="0.7"/>
<line x1="375.34" x2="375.34" y1="148.4" y2="149.9" stroke="#777" stroke-width="0.7"/>
<line x1="375.34" x2="375.34" y1="12.4" y2="10.9" stroke="#777" stroke-width="0.7"/>
<line x1="381.55" x2="381.55" y1="148.4" y2="151.2" stroke="#777" stroke-width="0.7"/>
<line x1="381.55" x2="381.55" y1="12.4" y2="9.6" stroke="#777" stroke-width="0.7"/>
<text x="381.55" y="157.9" text-anchor="middle" textLength="14.6" lengthAdjust="spacingAndGlyphs" class="tk">1950</text>
<line x1="387.76" x2="387.76" y1="148.4" y2="149.9" stroke="#777" stroke-width="0.7"/>
<line x1="387.76" x2="387.76" y1="12.4" y2="10.9" stroke="#777" stroke-width="0.7"/>
<line x1="393.97" x2="393.97" y1="148.4" y2="149.9" stroke="#777" stroke-width="0.7"/>
<line x1="393.97" x2="393.97" y1="12.4" y2="10.9" stroke="#777" stroke-width="0.7"/>
<line x1="400.18" x2="400.18" y1="148.4" y2="149.9" stroke="#777" stroke-width="0.7"/>
<line x1="400.18" x2="400.18" y1="12.4" y2="10.9" stroke="#777" stroke-width="0.7"/>
<line x1="406.38" x2="406.38" y1="148.4" y2="149.9" stroke="#777" stroke-width="0.7"/>
<line x1="406.38" x2="406.38" y1="12.4" y2="10.9" stroke="#777" stroke-width="0.7"/>
<line x1="412.59" x2="412.59" y1="148.4" y2="151.2" stroke="#777" stroke-width="0.7"/>
<line x1="412.59" x2="412.59" y1="12.4" y2="9.6" stroke="#777" stroke-width="0.7"/>
<text x="412.59" y="157.9" text-anchor="middle" textLength="14.6" lengthAdjust="spacingAndGlyphs" class="tk">1975</text>
<line x1="418.8" x2="418.8" y1="148.4" y2="149.9" stroke="#777" stroke-width="0.7"/>
<line x1="418.8" x2="418.8" y1="12.4" y2="10.9" stroke="#777" stroke-width="0.7"/>
<line x1="425.01" x2="425.01" y1="148.4" y2="149.9" stroke="#777" stroke-width="0.7"/>
<line x1="425.01" x2="425.01" y1="12.4" y2="10.9" stroke="#777" stroke-width="0.7"/>
<line x1="431.21" x2="431.21" y1="148.4" y2="149.9" stroke="#777" stroke-width="0.7"/>
<line x1="431.21" x2="431.21" y1="12.4" y2="10.9" stroke="#777" stroke-width="0.7"/>
<line x1="437.42" x2="437.42" y1="148.4" y2="149.9" stroke="#777" stroke-width="0.7"/>
<line x1="437.42" x2="437.42" y1="12.4" y2="10.9" stroke="#777" stroke-width="0.7"/>
<line x1="443.63" x2="443.63" y1="148.4" y2="151.2" stroke="#777" stroke-width="0.7"/>
<line x1="443.63" x2="443.63" y1="12.4" y2="9.6" stroke="#777" stroke-width="0.7"/>
<text x="443.63" y="157.9" text-anchor="middle" textLength="14.6" lengthAdjust="spacingAndGlyphs" class="tk">2000</text>
<line x1="449.84" x2="449.84" y1="148.4" y2="149.9" stroke="#777" stroke-width="0.7"/>
<line x1="449.84" x2="449.84" y1="12.4" y2="10.9" stroke="#777" stroke-width="0.7"/>
<line x1="254.6" x2="257.4" y1="148.4" y2="148.4" stroke="#777" stroke-width="0.7"/>
<line x1="451.45" x2="454.25" y1="148.4" y2="148.4" stroke="#777" stroke-width="0.7"/>
<text x="252.3" y="150.3" text-anchor="end" textLength="13.8" lengthAdjust="spacingAndGlyphs" class="tk">−0.5</text>
<line x1="254.6" x2="257.4" y1="114.4" y2="114.4" stroke="#777" stroke-width="0.7"/>
<line x1="451.45" x2="454.25" y1="114.4" y2="114.4" stroke="#777" stroke-width="0.7"/>
<text x="252.3" y="116.3" text-anchor="end" textLength="9.4" lengthAdjust="spacingAndGlyphs" class="tk">0.0</text>
<line x1="254.6" x2="257.4" y1="80.4" y2="80.4" stroke="#777" stroke-width="0.7"/>
<line x1="451.45" x2="454.25" y1="80.4" y2="80.4" stroke="#777" stroke-width="0.7"/>
<text x="252.3" y="82.3" text-anchor="end" textLength="9.4" lengthAdjust="spacingAndGlyphs" class="tk">0.5</text>
<line x1="254.6" x2="257.4" y1="46.4" y2="46.4" stroke="#777" stroke-width="0.7"/>
<line x1="451.45" x2="454.25" y1="46.4" y2="46.4" stroke="#777" stroke-width="0.7"/>
<text x="252.3" y="48.3" text-anchor="end" textLength="9.4" lengthAdjust="spacingAndGlyphs" class="tk">1.0</text>
<line x1="254.6" x2="257.4" y1="12.4" y2="12.4" stroke="#777" stroke-width="0.7"/>
<line x1="451.45" x2="454.25" y1="12.4" y2="12.4" stroke="#777" stroke-width="0.7"/>
<text x="252.3" y="14.3" text-anchor="end" textLength="9.4" lengthAdjust="spacingAndGlyphs" class="tk">1.5</text>
<text x="354.42" y="164.7" text-anchor="middle" textLength="13.6" lengthAdjust="spacingAndGlyphs" class="lb">Year</text>
<text x="354.42" y="6.1" text-anchor="middle" textLength="79.9" lengthAdjust="spacingAndGlyphs" class="tt">(b) Anthropogenic (Ant)</text>
<text transform="translate(234,80.4) rotate(-90)" text-anchor="middle" textLength="53.4" lengthAdjust="spacingAndGlyphs" class="lb">SAT Anomaly (°C)</text>
<clipPath id="clipc"><rect x="485.4" y="12.4" width="194.2" height="136"/></clipPath>
<g clip-path="url(#clipc)">
<rect x="552.99" y="12.4" width="71.19" height="136" fill="#d9d9ff"/>
<rect x="628.16" y="12.4" width="51.44" height="136" fill="#ffd9d9"/>
<polygon points="484.78,70.43 485.4,70.43 486.64,74.41 487.88,70.48 489.13,85.09 490.37,65.44 491.61,72.9 492.85,84.19 494.1,90.15 495.34,68.48 496.58,90.79 497.82,78.47 499.07,73.96 500.31,72.66 501.55,68.66 502.79,64.62 504.04,78.87 505.28,64.7 506.52,79.58 507.76,92.96 509.01,79.29 510.25,90.11 511.49,84.08 512.73,82.57 513.98,67.21 515.22,64.63 516.46,76.68 517.7,73.59 518.95,89.29 520.19,82.87 521.43,86.18 522.67,82.5 523.92,79.68 525.16,80.83 526.4,89.35 527.64,84.33 528.89,88.9 530.13,65.37 531.37,64.68 532.61,80.24 533.86,71.61 535.1,79.18 536.34,84.95 537.58,72.3 538.83,73.14 540.07,67.67 541.31,71.12 542.55,84.61 543.8,68.18 545.04,81.64 546.28,83.83 547.52,76.69 548.77,77.3 550.01,77.87 551.25,72.31 552.49,74.37 553.74,65.76 554.98,75.75 556.22,78.97 557.46,73.42 558.71,94.79 559.95,73.23 561.19,73.28 562.43,74.67 563.68,81.1 564.92,86.3 566.16,88.23 567.4,81.78 568.65,88.26 569.89,93.33 571.13,82.33 572.37,71.8 573.62,95.52 574.86,84.08 576.1,88.87 577.34,78.14 578.59,75.18 579.83,74.11 581.07,78.06 582.31,81.53 583.56,81.9 584.8,85.35 586.04,78.54 587.28,70.38 588.53,73.12 589.77,92.92 591.01,100.36 592.25,89.62 593.5,92.31 594.74,71.04 595.98,74.79 597.22,78.83 598.47,92.84 599.71,103.69 600.95,99.61 602.19,98.6 603.44,91.89 604.68,79.33 605.92,79.63 607.16,74 608.41,83.24 609.65,87.04 610.89,91.09 612.13,96.56 613.38,96.66 614.62,74.24 615.86,91.47 617.1,90.54 618.35,99.14 619.59,83.57 620.83,74.93 622.07,83.65 623.32,90.49 624.56,100.91 625.8,108.01 627.04,85 628.29,80.2 629.53,91.18 630.77,89.36 632.01,109.87 633.26,111 634.5,92.5 635.74,94.55 636.98,97.07 638.23,90.99 639.47,86.26 640.71,90.99 641.95,90.57 643.2,100.86 644.44,86.42 645.68,91.43 646.92,96.65 648.17,99.8 649.41,97.75 650.65,105 651.89,121.75 653.14,111.41 654.38,107.03 655.62,88.78 656.86,97.53 658.11,108.48 659.35,102.45 660.59,99.32 661.83,95.6 663.07,121.78 664.32,91.71 665.56,107.67 666.8,108.53 668.04,95.72 669.29,112.37 670.53,92.33 671.77,105.52 673.01,109.58 674.26,104.14 675.5,110.17 676.74,106.65 677.98,100.82 679.6,100.82 679.6,132.92 677.98,132.92 676.74,156.16 675.5,146.1 674.26,149.36 673.01,130.74 671.77,140.78 670.53,126.17 669.29,133.23 668.04,139.82 666.8,129.05 665.56,145.28 664.32,130.57 663.07,154.15 661.83,134.61 660.59,145.2 659.35,138.4 658.11,136.58 656.86,128.31 655.62,123.13 654.38,129.61 653.14,137.73 651.89,152.96 650.65,143.17 649.41,139.78 648.17,136.13 646.92,127.19 645.68,127.8 644.44,128.5 643.2,135.27 641.95,127.91 640.71,135.91 639.47,130.79 638.23,135.71 636.98,131.41 635.74,128.49 634.5,122.55 633.26,135.74 632.01,126.95 630.77,122.02 629.53,136.17 628.29,113.35 627.04,130.26 625.8,141.07 624.56,123.43 623.32,112.51 622.07,109.22 620.83,103.74 619.59,119.55 618.35,114.01 617.1,123.91 615.86,119.46 614.62,113.86 613.38,131.39 612.13,133.74 610.89,131.93 609.65,131.25 608.41,116.44 607.16,102.66 605.92,119.05 604.68,123.09 603.44,116.29 602.19,119.52 600.95,118.31 599.71,127.39 598.47,119.38 597.22,105.86 595.98,101.51 594.74,105.18 593.5,128.87 592.25,124.47 591.01,126.83 589.77,126.63 588.53,120.05 587.28,115.97 586.04,109.34 584.8,117.82 583.56,121.92 582.31,113.44 581.07,115.3 579.83,111.83 578.59,112.79 577.34,108.34 576.1,109.01 574.86,101.03 573.62,114.16 572.37,121.49 571.13,116.16 569.89,111.5 568.65,123.24 567.4,100.52 566.16,104.95 564.92,110.35 563.68,124.84 562.43,114.06 561.19,105.85 559.95,112.52 558.71,113.51 557.46,104.3 556.22,125.33 554.98,109.41 553.74,103.04 552.49,116.41 551.25,109.67 550.01,92.72 548.77,115.1 547.52,116.77 546.28,119.33 545.04,115.83 543.8,113.65 542.55,116.6 541.31,110.44 540.07,100.98 538.83,103.88 537.58,99.15 536.34,105.51 535.1,111.06 533.86,118.54 532.61,103.45 531.37,95.11 530.13,111.83 528.89,111.91 527.64,102.03 526.4,103.01 525.16,120.33 523.92,93.87 522.67,109.54 521.43,98.55 520.19,118.56 518.95,109.46 517.7,100.32 516.46,110.68 515.22,96.33 513.98,102.75 512.73,102.05 511.49,108.2 510.25,119.04 509.01,114.89 507.76,109.59 506.52,114.21 505.28,106.35 504.04,108.89 502.79,94.13 501.55,91.56 500.31,105.55 499.07,118.65 497.82,114.08 496.58,102.16 495.34,102.42 494.1,115.94 492.85,114.92 491.61,108.32 490.37,104.41 489.13,110.37 487.88,103.08 486.64,102.37 485.4,113.28 484.78,113.28" fill="#0000ff" fill-opacity="0.17" stroke="none"/>
<line x1="485.4" x2="679.6" y1="93.55" y2="93.55" stroke="#000" stroke-width="0.7" stroke-opacity="0.8"/>
<line x1="485.4" y1="102.42" x2="679.6" y2="56.07" stroke="#000" stroke-width="0.6" stroke-opacity="0.85" stroke-dasharray="2.4,1.5"/>
<line x1="485.4" y1="87.84" x2="679.6" y2="120.21" stroke="#0000ff" stroke-width="0.6" stroke-dasharray="2.4,1.5"/>
<text x="614.99" y="18.85" text-anchor="middle" textLength="48.6" lengthAdjust="spacingAndGlyphs" class="pl">Industrial Period</text>
<text x="583.12" y="34.25" text-anchor="middle" textLength="22.5" lengthAdjust="spacingAndGlyphs" class="pl">Period I</text>
<text x="646.55" y="34.25" text-anchor="middle" textLength="24.5" lengthAdjust="spacingAndGlyphs" class="pl">Period II</text>
<text x="518.14" y="50.6" text-anchor="middle" textLength="59.9" lengthAdjust="spacingAndGlyphs" class="pl">Pre-Industrial Period</text>
<polyline points="485.4,90.83 485.9,90.67 488.01,89.63 488.88,83.21 490.49,80.28 491.36,81.8 492.23,88.11 493.6,97.09 494.59,106.88 495.46,100.08 496.09,95.56 497.33,97.9 498.45,94.64 499.44,92.14 500.31,96.54 501.55,89.2 502.79,86.64 504.04,92.14 505.65,102.04 506.52,97.09 507.76,94.64 509.01,88.82 510.87,84.74 512.11,87.13 514.35,80.11 515.84,85.72 517.08,86.64 519.2,91.16 521.68,86.64 523.3,90.67 525.04,91.65 526.65,93.17 528.14,114.77 530.01,112.32 531.25,113.13 533.11,101.98 533.73,101 535.84,97.58 536.96,99.97 538.7,98.01 540.32,94.04 542.93,83.76 544.17,99.97 545.41,102.91 546.9,86.21 548.89,93.17 550.26,102.91 551.75,109.87 552.62,97.36 554.73,96.27 556.47,91.92 558.95,90.01 560.82,87.57 562.06,86.59 563.92,90.01 565.04,88.11 566.53,82.67 567.9,76.2 569.52,84.57 571.01,79.73 572.62,83.59 575.23,72.33 577.22,88.65 578.96,81.15 580.57,82.13 582.93,74.29 584.67,81.15 586.41,77.23 587.9,83.21 589.77,90.5 591.63,67.76 593.5,67.76 595.48,81.04 597.47,77.23 599.96,64.72 601.82,74.67 603.93,62.54 606.42,77.23 608.41,73.42 610.27,76.14 612.13,62 614,70.7 615.61,75.05 616.85,77.23 619.22,61.45 620.33,77.23 621.45,73.97 623.32,63.63 625.18,72.88 626.42,81.58 627.79,93.55 629.53,80.93 631.52,80.28 632.63,78.86 633.88,75.87 635.12,72.44 636.36,74.95 638.85,67.49 640.71,73.48 642.57,67.49 644.07,67 645.68,74.95 648.04,52.75 649.9,59.71 651.77,60.64 654.25,71.95 656.86,43.72 659.1,73.97 660.47,52.75 662.83,67 665.31,68.53 667.8,52.75 670.41,37.84 672.77,49.16 674.88,34.91 675.75,34.42 677.24,22.61 678.61,37.35" fill="none" stroke="#000" stroke-width="1.1" stroke-linejoin="round"/>
<polyline points="485.4,88.11 485.9,84.95 487.39,92.14 489.13,90.29 490.74,83.98 492.11,90.83 493.48,98.34 495.09,91.92 496.83,96.27 498.32,100.46 499.56,89.2 500.93,79.84 502.3,85.39 503.79,92.14 505.4,88.11 507.14,98.34 508.51,101.44 510,98.99 511.62,100.46 513.23,89.74 514.72,86.04 516.21,83.98 517.83,91.92 519.44,98.34 520.81,94.64 522.3,90.12 523.92,88.11 525.66,98.34 527.15,93.55 528.64,95.18 530.13,88.11 531.12,77.77 532.61,88.11 534.23,98.34 535.72,93.55 537.21,86.04 538.7,91.16 540.32,88.11 541.93,96.27 543.55,92.14 545.04,96.27 546.65,93.55 548.27,92.14 549.76,83.98 551.13,96.27 552.99,100.4 553.86,85.12 554.73,87.02 555.6,93.28 556.47,101.49 557.46,96.27 558.33,107.37 559.2,94.64 560.07,83.92 561.07,89.8 562.06,97.9 563.06,103.89 563.92,100.08 564.79,106.23 565.66,98.99 566.53,95.62 567.4,91.92 568.27,93.28 569.39,101.71 570.39,108.62 571.26,101.71 572.13,95.62 573,98.99 573.86,101.49 574.73,95.73 575.6,92.08 576.6,96.81 577.47,102.69 578.34,95.73 579.08,92.08 580.08,97.9 580.95,105.08 581.82,89.8 582.69,88.11 583.56,96.81 584.55,103.89 585.42,98.99 586.17,93.28 587.41,89.31 588.77,96.27 590.27,106.5 591.63,109.82 592.87,107.15 594.24,97.19 595.61,85.28 596.6,93.55 597.47,100.08 598.84,107.8 600.21,113.79 601.57,109.87 602.94,104.43 604.55,95.89 605.92,91.32 607.29,94.64 608.65,103.78 610.15,111.77 611.51,115.8 612.75,111.5 613.87,103.78 615.24,97.19 616.48,98.99 617.85,111.77 618.72,105.52 619.71,98.5 620.83,96.81 622.57,98.88 624.19,112.05 625.43,118.68 626.79,107.15 628.04,98.88 629.9,112.05 631.52,116.45 633.01,121.95 634.75,115.31 636.49,113.13 637.98,114.22 639.59,107.64 641.08,108.24 642.57,113.13 643.94,109.87 645.31,101.06 646.8,115.31 648.29,118.68 649.78,115.31 651.27,134.13 652.89,121.84 654.38,118.57 655.87,114.22 657.36,118.57 658.6,116.4 659.97,128.53 661.46,116.4 662.95,134.13 664.44,116.4 666.18,118.57 667.8,114.22 669.29,118.57 670.9,114.22 672.64,112.05 673.88,125.27 675.5,138.54 676.99,127.55 678.36,123.03" fill="none" stroke="#0000ff" stroke-width="1.15" stroke-linejoin="round"/>
</g>
<rect x="488.2" y="15.2" width="54" height="19.4" rx="1.2" fill="#fff" fill-opacity="0.8" stroke="#d8d8d8" stroke-width="0.6"/>
<line x1="490.4" x2="503.4" y1="20.05" y2="20.05" stroke="#444" stroke-width="1.3"/>
<line x1="490.4" x2="503.4" y1="28.75" y2="28.75" stroke="#0000ff" stroke-width="1.1"/>
<text x="507.6" y="22.35" text-anchor="start" textLength="32.5" lengthAdjust="spacingAndGlyphs" class="lg">HadCRUT5</text>
<text x="507.6" y="31.1" text-anchor="start" class="lg" style="fill:#0000ff;stroke:#0000ff">Aaer</text>
<rect x="485.4" y="12.4" width="194.2" height="136" fill="none" stroke="#777" stroke-width="0.9"/>
<line x1="485.4" x2="485.4" y1="148.4" y2="151.2" stroke="#777" stroke-width="0.7"/>
<line x1="485.4" x2="485.4" y1="12.4" y2="9.6" stroke="#777" stroke-width="0.7"/>
<text x="485.4" y="157.9" text-anchor="middle" textLength="14.6" lengthAdjust="spacingAndGlyphs" class="tk">1850</text>
<line x1="491.61" x2="491.61" y1="148.4" y2="149.9" stroke="#777" stroke-width="0.7"/>
<line x1="491.61" x2="491.61" y1="12.4" y2="10.9" stroke="#777" stroke-width="0.7"/>
<line x1="497.82" x2="497.82" y1="148.4" y2="149.9" stroke="#777" stroke-width="0.7"/>
<line x1="497.82" x2="497.82" y1="12.4" y2="10.9" stroke="#777" stroke-width="0.7"/>
<line x1="504.04" x2="504.04" y1="148.4" y2="149.9" stroke="#777" stroke-width="0.7"/>
<line x1="504.04" x2="504.04" y1="12.4" y2="10.9" stroke="#777" stroke-width="0.7"/>
<line x1="510.25" x2="510.25" y1="148.4" y2="149.9" stroke="#777" stroke-width="0.7"/>
<line x1="510.25" x2="510.25" y1="12.4" y2="10.9" stroke="#777" stroke-width="0.7"/>
<line x1="516.46" x2="516.46" y1="148.4" y2="151.2" stroke="#777" stroke-width="0.7"/>
<line x1="516.46" x2="516.46" y1="12.4" y2="9.6" stroke="#777" stroke-width="0.7"/>
<text x="516.46" y="157.9" text-anchor="middle" textLength="14.6" lengthAdjust="spacingAndGlyphs" class="tk">1875</text>
<line x1="522.67" x2="522.67" y1="148.4" y2="149.9" stroke="#777" stroke-width="0.7"/>
<line x1="522.67" x2="522.67" y1="12.4" y2="10.9" stroke="#777" stroke-width="0.7"/>
<line x1="528.89" x2="528.89" y1="148.4" y2="149.9" stroke="#777" stroke-width="0.7"/>
<line x1="528.89" x2="528.89" y1="12.4" y2="10.9" stroke="#777" stroke-width="0.7"/>
<line x1="535.1" x2="535.1" y1="148.4" y2="149.9" stroke="#777" stroke-width="0.7"/>
<line x1="535.1" x2="535.1" y1="12.4" y2="10.9" stroke="#777" stroke-width="0.7"/>
<line x1="541.31" x2="541.31" y1="148.4" y2="149.9" stroke="#777" stroke-width="0.7"/>
<line x1="541.31" x2="541.31" y1="12.4" y2="10.9" stroke="#777" stroke-width="0.7"/>
<line x1="547.52" x2="547.52" y1="148.4" y2="151.2" stroke="#777" stroke-width="0.7"/>
<line x1="547.52" x2="547.52" y1="12.4" y2="9.6" stroke="#777" stroke-width="0.7"/>
<text x="547.52" y="157.9" text-anchor="middle" textLength="14.6" lengthAdjust="spacingAndGlyphs" class="tk">1900</text>
<line x1="553.74" x2="553.74" y1="148.4" y2="149.9" stroke="#777" stroke-width="0.7"/>
<line x1="553.74" x2="553.74" y1="12.4" y2="10.9" stroke="#777" stroke-width="0.7"/>
<line x1="559.95" x2="559.95" y1="148.4" y2="149.9" stroke="#777" stroke-width="0.7"/>
<line x1="559.95" x2="559.95" y1="12.4" y2="10.9" stroke="#777" stroke-width="0.7"/>
<line x1="566.16" x2="566.16" y1="148.4" y2="149.9" stroke="#777" stroke-width="0.7"/>
<line x1="566.16" x2="566.16" y1="12.4" y2="10.9" stroke="#777" stroke-width="0.7"/>
<line x1="572.37" x2="572.37" y1="148.4" y2="149.9" stroke="#777" stroke-width="0.7"/>
<line x1="572.37" x2="572.37" y1="12.4" y2="10.9" stroke="#777" stroke-width="0.7"/>
<line x1="578.59" x2="578.59" y1="148.4" y2="151.2" stroke="#777" stroke-width="0.7"/>
<line x1="578.59" x2="578.59" y1="12.4" y2="9.6" stroke="#777" stroke-width="0.7"/>
<text x="578.59" y="157.9" text-anchor="middle" textLength="14.6" lengthAdjust="spacingAndGlyphs" class="tk">1925</text>
<line x1="584.8" x2="584.8" y1="148.4" y2="149.9" stroke="#777" stroke-width="0.7"/>
<line x1="584.8" x2="584.8" y1="12.4" y2="10.9" stroke="#777" stroke-width="0.7"/>
<line x1="591.01" x2="591.01" y1="148.4" y2="149.9" stroke="#777" stroke-width="0.7"/>
<line x1="591.01" x2="591.01" y1="12.4" y2="10.9" stroke="#777" stroke-width="0.7"/>
<line x1="597.22" x2="597.22" y1="148.4" y2="149.9" stroke="#777" stroke-width="0.7"/>
<line x1="597.22" x2="597.22" y1="12.4" y2="10.9" stroke="#777" stroke-width="0.7"/>
<line x1="603.44" x2="603.44" y1="148.4" y2="149.9" stroke="#777" stroke-width="0.7"/>
<line x1="603.44" x2="603.44" y1="12.4" y2="10.9" stroke="#777" stroke-width="0.7"/>
<line x1="609.65" x2="609.65" y1="148.4" y2="151.2" stroke="#777" stroke-width="0.7"/>
<line x1="609.65" x2="609.65" y1="12.4" y2="9.6" stroke="#777" stroke-width="0.7"/>
<text x="609.65" y="157.9" text-anchor="middle" textLength="14.6" lengthAdjust="spacingAndGlyphs" class="tk">1950</text>
<line x1="615.86" x2="615.86" y1="148.4" y2="149.9" stroke="#777" stroke-width="0.7"/>
<line x1="615.86" x2="615.86" y1="12.4" y2="10.9" stroke="#777" stroke-width="0.7"/>
<line x1="622.07" x2="622.07" y1="148.4" y2="149.9" stroke="#777" stroke-width="0.7"/>
<line x1="622.07" x2="622.07" y1="12.4" y2="10.9" stroke="#777" stroke-width="0.7"/>
<line x1="628.29" x2="628.29" y1="148.4" y2="149.9" stroke="#777" stroke-width="0.7"/>
<line x1="628.29" x2="628.29" y1="12.4" y2="10.9" stroke="#777" stroke-width="0.7"/>
<line x1="634.5" x2="634.5" y1="148.4" y2="149.9" stroke="#777" stroke-width="0.7"/>
<line x1="634.5" x2="634.5" y1="12.4" y2="10.9" stroke="#777" stroke-width="0.7"/>
<line x1="640.71" x2="640.71" y1="148.4" y2="151.2" stroke="#777" stroke-width="0.7"/>
<line x1="640.71" x2="640.71" y1="12.4" y2="9.6" stroke="#777" stroke-width="0.7"/>
<text x="640.71" y="157.9" text-anchor="middle" textLength="14.6" lengthAdjust="spacingAndGlyphs" class="tk">1975</text>
<line x1="646.92" x2="646.92" y1="148.4" y2="149.9" stroke="#777" stroke-width="0.7"/>
<line x1="646.92" x2="646.92" y1="12.4" y2="10.9" stroke="#777" stroke-width="0.7"/>
<line x1="653.14" x2="653.14" y1="148.4" y2="149.9" stroke="#777" stroke-width="0.7"/>
<line x1="653.14" x2="653.14" y1="12.4" y2="10.9" stroke="#777" stroke-width="0.7"/>
<line x1="659.35" x2="659.35" y1="148.4" y2="149.9" stroke="#777" stroke-width="0.7"/>
<line x1="659.35" x2="659.35" y1="12.4" y2="10.9" stroke="#777" stroke-width="0.7"/>
<line x1="665.56" x2="665.56" y1="148.4" y2="149.9" stroke="#777" stroke-width="0.7"/>
<line x1="665.56" x2="665.56" y1="12.4" y2="10.9" stroke="#777" stroke-width="0.7"/>
<line x1="671.77" x2="671.77" y1="148.4" y2="151.2" stroke="#777" stroke-width="0.7"/>
<line x1="671.77" x2="671.77" y1="12.4" y2="9.6" stroke="#777" stroke-width="0.7"/>
<text x="671.77" y="157.9" text-anchor="middle" textLength="14.6" lengthAdjust="spacingAndGlyphs" class="tk">2000</text>
<line x1="677.98" x2="677.98" y1="148.4" y2="149.9" stroke="#777" stroke-width="0.7"/>
<line x1="677.98" x2="677.98" y1="12.4" y2="10.9" stroke="#777" stroke-width="0.7"/>
<line x1="482.6" x2="485.4" y1="147.95" y2="147.95" stroke="#777" stroke-width="0.7"/>
<line x1="679.6" x2="682.4" y1="147.95" y2="147.95" stroke="#777" stroke-width="0.7"/>
<text x="480.3" y="149.85" text-anchor="end" textLength="13.8" lengthAdjust="spacingAndGlyphs" class="tk">−1.0</text>
<line x1="482.6" x2="485.4" y1="120.75" y2="120.75" stroke="#777" stroke-width="0.7"/>
<line x1="679.6" x2="682.4" y1="120.75" y2="120.75" stroke="#777" stroke-width="0.7"/>
<text x="480.3" y="122.65" text-anchor="end" textLength="13.8" lengthAdjust="spacingAndGlyphs" class="tk">−0.5</text>
<line x1="482.6" x2="485.4" y1="93.55" y2="93.55" stroke="#777" stroke-width="0.7"/>
<line x1="679.6" x2="682.4" y1="93.55" y2="93.55" stroke="#777" stroke-width="0.7"/>
<text x="480.3" y="95.45" text-anchor="end" textLength="9.4" lengthAdjust="spacingAndGlyphs" class="tk">0.0</text>
<line x1="482.6" x2="485.4" y1="66.35" y2="66.35" stroke="#777" stroke-width="0.7"/>
<line x1="679.6" x2="682.4" y1="66.35" y2="66.35" stroke="#777" stroke-width="0.7"/>
<text x="480.3" y="68.25" text-anchor="end" textLength="9.4" lengthAdjust="spacingAndGlyphs" class="tk">0.5</text>
<line x1="482.6" x2="485.4" y1="39.15" y2="39.15" stroke="#777" stroke-width="0.7"/>
<line x1="679.6" x2="682.4" y1="39.15" y2="39.15" stroke="#777" stroke-width="0.7"/>
<text x="480.3" y="41.05" text-anchor="end" textLength="9.4" lengthAdjust="spacingAndGlyphs" class="tk">1.0</text>
<line x1="482.6" x2="485.4" y1="11.95" y2="11.95" stroke="#777" stroke-width="0.7"/>
<line x1="679.6" x2="682.4" y1="11.95" y2="11.95" stroke="#777" stroke-width="0.7"/>
<text x="480.3" y="13.85" text-anchor="end" textLength="9.4" lengthAdjust="spacingAndGlyphs" class="tk">1.5</text>
<text x="582.5" y="164.7" text-anchor="middle" textLength="13.6" lengthAdjust="spacingAndGlyphs" class="lb">Year</text>
<text x="582.5" y="6.1" text-anchor="middle" textLength="111.2" lengthAdjust="spacingAndGlyphs" class="tt">(c) Anthropogenic aerosol (Aaer)</text>
<text transform="translate(462,80.4) rotate(-90)" text-anchor="middle" textLength="53.4" lengthAdjust="spacingAndGlyphs" class="lb">SAT Anomaly (°C)</text>
<clipPath id="clipd"><rect x="28.6" y="184.85" width="194.85" height="136.35"/></clipPath>
<g clip-path="url(#clipd)">
<rect x="96.42" y="184.85" width="71.43" height="136.35" fill="#d9d9ff"/>
<rect x="171.84" y="184.85" width="51.61" height="136.35" fill="#ffd9d9"/>
<polygon points="27.98,267.25 28.6,267.25 29.85,268.05 31.09,265.55 32.34,263.71 33.59,270.77 34.83,269.19 36.08,264.95 37.33,262.13 38.57,270.21 39.82,266.58 41.07,263.1 42.31,267.7 43.56,269.21 44.81,268.47 46.05,266.2 47.3,261 48.55,264.26 49.79,270.78 51.04,265.48 52.29,266.85 53.53,264.47 54.78,260.64 56.03,263.25 57.27,266.38 58.52,267.34 59.77,266.38 61.01,268.49 62.26,267.15 63.51,262.94 64.75,268.11 66,263.39 67.25,263.89 68.49,268.15 69.74,263.92 70.99,254.36 72.23,260.94 73.48,260.09 74.73,267.76 75.97,260.46 77.22,262.48 78.47,262.04 79.71,262.38 80.96,262.04 82.21,266.1 83.45,266.11 84.7,262 85.95,260.39 87.19,264.55 88.44,263.01 89.69,247.84 90.93,258.68 92.18,257.88 93.43,251.56 94.67,260.62 95.92,262.96 97.17,264.44 98.41,264.09 99.66,262.49 100.91,263.2 102.15,260.32 103.4,260.64 104.65,257.28 105.89,256.63 107.14,260.39 108.39,253.05 109.63,252.6 110.88,250.2 112.12,256.45 113.37,253.55 114.62,254.86 115.86,254.94 117.11,255.43 118.36,255.25 119.6,247.89 120.85,248.22 122.1,251.34 123.34,248.91 124.59,241.29 125.84,253.33 127.08,240.57 128.33,248.49 129.58,244.96 130.82,241.69 132.07,245.26 133.32,248.23 134.56,247.33 135.81,244.04 137.06,245.29 138.3,248.83 139.55,245.58 140.8,244.68 142.04,246.69 143.29,248.98 144.54,245.94 145.78,242.85 147.03,243.06 148.28,247.43 149.52,242.75 150.77,244.29 152.02,239.4 153.26,239.39 154.51,240.76 155.76,242.46 157,243.95 158.25,238.86 159.5,236.8 160.74,238.32 161.99,237.9 163.24,238.77 164.48,242.48 165.73,242.42 166.98,242.33 168.22,235.1 169.47,232.23 170.72,232.62 171.96,228.75 173.21,223.47 174.46,223.17 175.7,221.73 176.95,212.82 178.2,216.68 179.44,215.06 180.69,215.41 181.94,217.56 183.18,212.87 184.43,211.62 185.68,212.55 186.92,204.31 188.17,208.69 189.42,207.74 190.66,208.51 191.91,207.95 193.16,203.62 194.4,207.72 195.65,193.11 196.9,202.58 198.14,199.66 199.39,195.25 200.64,195.28 201.88,192.48 203.13,196.38 204.38,190.38 205.62,187.49 206.87,172.2 208.12,166.96 209.36,185.07 210.61,178.74 211.86,179.69 213.1,180.4 214.35,178.26 215.6,178.99 216.84,175.1 218.09,173.17 219.34,163.03 220.58,160.77 221.83,171.08 223.45,171.08 223.45,245.02 221.83,245.02 220.58,240.86 219.34,247.62 218.09,247.82 216.84,247.16 215.6,249.91 214.35,248.08 213.1,247.11 211.86,253.72 210.61,252.93 209.36,256.22 208.12,251.33 206.87,256.99 205.62,256.9 204.38,255.73 203.13,258.62 201.88,263.42 200.64,263.83 199.39,262.56 198.14,264.26 196.9,262.59 195.65,267.37 194.4,264.38 193.16,277.87 191.91,279.73 190.66,271.64 189.42,271.5 188.17,268.13 186.92,274.23 185.68,276.87 184.43,277.17 183.18,280.33 181.94,273.89 180.69,281.39 179.44,279.32 178.2,277.77 176.95,285.22 175.7,285.22 174.46,279.09 173.21,280.92 171.96,286.7 170.72,290.29 169.47,298.28 168.22,306.69 166.98,307.83 165.73,306.48 164.48,312.11 163.24,311.64 161.99,311.09 160.74,306.51 159.5,306.95 158.25,311.73 157,308.05 155.76,307.5 154.51,311.15 153.26,308.12 152.02,304.19 150.77,308.61 149.52,309.61 148.28,308.17 147.03,311.05 145.78,309.44 144.54,306.68 143.29,312.08 142.04,306.42 140.8,307.22 139.55,314.01 138.3,313.1 137.06,309.51 135.81,310.68 134.56,305.71 133.32,312.95 132.07,322.54 130.82,310.7 129.58,311.56 128.33,308.54 127.08,311.2 125.84,313.07 124.59,311.7 123.34,321.64 122.1,307.75 120.85,307.52 119.6,307.03 118.36,308.83 117.11,315.85 115.86,310.57 114.62,306.53 113.37,309.85 112.12,308.23 110.88,312.1 109.63,310.7 108.39,306.17 107.14,309.89 105.89,306.87 104.65,313.21 103.4,309.09 102.15,310.31 100.91,306.97 99.66,308.65 98.41,310.66 97.17,312.87 95.92,322.51 94.67,315.11 93.43,317.04 92.18,314.44 90.93,317.3 89.69,317.19 88.44,320.7 87.19,322.21 85.95,315.78 84.7,318.21 83.45,322.7 82.21,317.08 80.96,318.73 79.71,317.17 78.47,320.06 77.22,320.02 75.97,316.75 74.73,320.26 73.48,316.39 72.23,319.22 70.99,319.62 69.74,315.71 68.49,320.74 67.25,318.33 66,319.25 64.75,317.72 63.51,321.27 62.26,318.83 61.01,319.51 59.77,317.89 58.52,322.01 57.27,320.87 56.03,321.85 54.78,320.85 53.53,315.16 52.29,322.45 51.04,324.66 49.79,319.83 48.55,317.41 47.3,315.24 46.05,314.45 44.81,319.04 43.56,323.35 42.31,320.47 41.07,316.55 39.82,316.88 38.57,324.56 37.33,319.94 36.08,318.94 34.83,322.48 33.59,319.25 32.34,316.26 31.09,315.79 29.85,327.99 28.6,317.82 27.98,317.82" fill="#228b22" fill-opacity="0.15" stroke="none"/>
<line x1="28.6" x2="223.45" y1="293.93" y2="293.93" stroke="#000" stroke-width="0.7" stroke-opacity="0.8"/>
<line x1="28.6" y1="302.82" x2="223.45" y2="256.35" stroke="#000" stroke-width="0.6" stroke-opacity="0.85" stroke-dasharray="2.4,1.5"/>
<line x1="28.6" y1="313.02" x2="223.45" y2="231.21" stroke="#228b22" stroke-width="0.6" stroke-dasharray="2.4,1.5"/>
<text x="158.62" y="202.7" text-anchor="middle" textLength="48.6" lengthAdjust="spacingAndGlyphs" class="pl">Industrial Period</text>
<text x="126.65" y="212.05" text-anchor="middle" textLength="22.5" lengthAdjust="spacingAndGlyphs" class="pl">Period I</text>
<text x="190.29" y="212.05" text-anchor="middle" textLength="24.5" lengthAdjust="spacingAndGlyphs" class="pl">Period II</text>
<text x="61.45" y="249.7" text-anchor="middle" textLength="59.9" lengthAdjust="spacingAndGlyphs" class="pl">Pre-Industrial Period</text>
<polyline points="28.6,291.2 29.1,291.04 31.22,290 32.09,283.57 33.71,280.62 34.58,282.15 35.46,288.48 36.83,297.48 37.83,307.29 38.7,300.47 39.32,295.95 40.57,298.29 41.69,295.02 42.69,292.51 43.56,296.93 44.81,289.57 46.05,287 47.3,292.51 48.92,302.44 49.79,297.48 51.04,295.02 52.29,289.19 54.16,285.09 55.4,287.49 57.65,280.46 59.14,286.08 60.39,287 62.51,291.53 65,287 66.62,291.04 68.37,292.02 69.99,293.55 71.48,315.2 73.35,312.75 74.6,313.56 76.47,302.38 77.09,301.4 79.21,297.97 80.34,300.37 82.08,298.4 83.7,294.42 86.32,284.11 87.57,300.37 88.81,303.31 90.31,286.57 92.3,293.55 93.67,303.31 95.17,310.29 96.04,297.75 98.16,296.66 99.91,292.29 102.4,290.38 104.27,287.93 105.52,286.95 107.39,290.38 108.51,288.48 110.01,283.02 111.38,276.53 113,284.93 114.49,280.08 116.11,283.95 118.73,272.66 120.73,289.02 122.47,281.49 124.09,282.48 126.46,274.62 128.21,281.49 129.95,277.57 131.45,283.57 133.32,290.88 135.19,268.08 137.06,268.08 139.05,281.39 141.05,277.57 143.54,265.02 145.41,275 147.53,262.84 150.02,277.57 152.02,273.75 153.89,276.48 155.76,262.3 157.63,271.02 159.25,275.39 160.49,277.57 162.86,261.75 163.99,277.57 165.11,274.3 166.98,263.93 168.85,273.2 170.09,281.93 171.47,293.93 173.21,281.28 175.2,280.62 176.33,279.2 177.57,276.2 178.82,272.77 180.07,275.28 182.56,267.81 184.43,273.8 186.3,267.81 187.8,267.31 189.42,275.28 191.79,253.02 193.66,260.01 195.53,260.93 198.02,272.28 200.64,243.97 202.88,274.3 204.25,253.02 206.62,267.31 209.11,268.84 211.61,253.02 214.22,238.08 216.59,249.43 218.71,235.14 219.59,234.65 221.08,222.81 222.45,237.59" fill="none" stroke="#000" stroke-width="1.1" stroke-linejoin="round"/>
<polyline points="28.97,302.71 30.1,296.66 31.34,291.42 32.96,299.27 34.33,293.93 35.83,297.09 37.33,290.66 38.82,301.62 40.32,298.29 41.94,292.62 43.81,298.29 45.68,289.19 47.3,293.93 48.8,301.62 50.54,308.38 51.91,296.66 53.28,290.33 54.65,287.99 56.28,293.93 57.9,289.57 59.64,294.8 61.26,292.29 62.88,296.66 64.5,293.38 66.5,291.42 68.24,296.11 69.86,286.89 71.48,292.29 73.23,289.57 74.98,293.93 76.72,287.99 78.34,292.29 80.09,290.66 81.83,286.89 83.58,293.93 85.07,285.8 86.82,291.2 88.69,283.51 90.43,290.11 92.18,283.51 93.8,287.39 95.05,286.29 96.79,289.57 98.41,284.88 100.78,280.57 102.78,285.2 105.02,277.79 107.01,281.93 109.13,277.57 111.5,284.88 113.5,272.11 115.62,278.66 117.86,282.09 119.85,277.57 121.97,282.09 124.22,274.9 126.46,278.66 128.83,273.48 130.82,282.09 132.82,274.84 134.94,269.22 137.06,274.84 139.05,277.57 141.3,270.59 143.54,277.57 145.91,267.81 147.9,280.57 150.02,272.11 152.27,266.39 154.26,274.84 156.38,277.57 158.38,267.81 160.74,265.02 161.99,272.11 163.49,276.2 165.11,262.13 166.73,269.39 167.97,261.42 169.22,269.39 170.59,264.1 171.96,269.39 173.34,260.12 174.58,254.82 176.33,261.21 178.57,246.92 179.82,255.75 181.19,250.84 182.56,246.48 183.93,242.94 185.43,249.21 187.05,238.84 188.79,243.75 190.54,236.34 191.91,242.12 193.16,246.92 194.4,239.39 195.77,232.3 197.52,233.94 199.27,229.68 201.01,233.94 202.88,228.48 204.63,229.57 206.37,219.1 207.74,209.83 208.99,220.41 210.36,223.03 211.86,219.1 213.48,213.81 215.1,217.57 216.84,209.83 218.09,211.03 219.59,207.21 220.96,200.61 222.2,208.52" fill="none" stroke="#228b22" stroke-width="1.15" stroke-linejoin="round"/>
</g>
<rect x="31.4" y="187.65" width="54" height="19.4" rx="1.2" fill="#fff" fill-opacity="0.8" stroke="#d8d8d8" stroke-width="0.6"/>
<line x1="33.6" x2="46.6" y1="192.5" y2="192.5" stroke="#444" stroke-width="1.3"/>
<line x1="33.6" x2="46.6" y1="201.2" y2="201.2" stroke="#228b22" stroke-width="1.1"/>
<text x="50.8" y="194.8" text-anchor="start" textLength="32.5" lengthAdjust="spacingAndGlyphs" class="lg">HadCRUT5</text>
<text x="50.8" y="203.55" text-anchor="start" class="lg" style="fill:#228b22;stroke:#228b22">GHG</text>
<rect x="28.6" y="184.85" width="194.85" height="136.35" fill="none" stroke="#777" stroke-width="0.9"/>
<line x1="28.6" x2="28.6" y1="321.2" y2="324" stroke="#777" stroke-width="0.7"/>
<line x1="28.6" x2="28.6" y1="184.85" y2="182.05" stroke="#777" stroke-width="0.7"/>
<text x="28.6" y="330.7" text-anchor="middle" textLength="14.6" lengthAdjust="spacingAndGlyphs" class="tk">1850</text>
<line x1="34.83" x2="34.83" y1="321.2" y2="322.7" stroke="#777" stroke-width="0.7"/>
<line x1="34.83" x2="34.83" y1="184.85" y2="183.35" stroke="#777" stroke-width="0.7"/>
<line x1="41.07" x2="41.07" y1="321.2" y2="322.7" stroke="#777" stroke-width="0.7"/>
<line x1="41.07" x2="41.07" y1="184.85" y2="183.35" stroke="#777" stroke-width="0.7"/>
<line x1="47.3" x2="47.3" y1="321.2" y2="322.7" stroke="#777" stroke-width="0.7"/>
<line x1="47.3" x2="47.3" y1="184.85" y2="183.35" stroke="#777" stroke-width="0.7"/>
<line x1="53.53" x2="53.53" y1="321.2" y2="322.7" stroke="#777" stroke-width="0.7"/>
<line x1="53.53" x2="53.53" y1="184.85" y2="183.35" stroke="#777" stroke-width="0.7"/>
<line x1="59.77" x2="59.77" y1="321.2" y2="324" stroke="#777" stroke-width="0.7"/>
<line x1="59.77" x2="59.77" y1="184.85" y2="182.05" stroke="#777" stroke-width="0.7"/>
<text x="59.77" y="330.7" text-anchor="middle" textLength="14.6" lengthAdjust="spacingAndGlyphs" class="tk">1875</text>
<line x1="66" x2="66" y1="321.2" y2="322.7" stroke="#777" stroke-width="0.7"/>
<line x1="66" x2="66" y1="184.85" y2="183.35" stroke="#777" stroke-width="0.7"/>
<line x1="72.23" x2="72.23" y1="321.2" y2="322.7" stroke="#777" stroke-width="0.7"/>
<line x1="72.23" x2="72.23" y1="184.85" y2="183.35" stroke="#777" stroke-width="0.7"/>
<line x1="78.47" x2="78.47" y1="321.2" y2="322.7" stroke="#777" stroke-width="0.7"/>
<line x1="78.47" x2="78.47" y1="184.85" y2="183.35" stroke="#777" stroke-width="0.7"/>
<line x1="84.7" x2="84.7" y1="321.2" y2="322.7" stroke="#777" stroke-width="0.7"/>
<line x1="84.7" x2="84.7" y1="184.85" y2="183.35" stroke="#777" stroke-width="0.7"/>
<line x1="90.93" x2="90.93" y1="321.2" y2="324" stroke="#777" stroke-width="0.7"/>
<line x1="90.93" x2="90.93" y1="184.85" y2="182.05" stroke="#777" stroke-width="0.7"/>
<text x="90.93" y="330.7" text-anchor="middle" textLength="14.6" lengthAdjust="spacingAndGlyphs" class="tk">1900</text>
<line x1="97.17" x2="97.17" y1="321.2" y2="322.7" stroke="#777" stroke-width="0.7"/>
<line x1="97.17" x2="97.17" y1="184.85" y2="183.35" stroke="#777" stroke-width="0.7"/>
<line x1="103.4" x2="103.4" y1="321.2" y2="322.7" stroke="#777" stroke-width="0.7"/>
<line x1="103.4" x2="103.4" y1="184.85" y2="183.35" stroke="#777" stroke-width="0.7"/>
<line x1="109.63" x2="109.63" y1="321.2" y2="322.7" stroke="#777" stroke-width="0.7"/>
<line x1="109.63" x2="109.63" y1="184.85" y2="183.35" stroke="#777" stroke-width="0.7"/>
<line x1="115.86" x2="115.86" y1="321.2" y2="322.7" stroke="#777" stroke-width="0.7"/>
<line x1="115.86" x2="115.86" y1="184.85" y2="183.35" stroke="#777" stroke-width="0.7"/>
<line x1="122.1" x2="122.1" y1="321.2" y2="324" stroke="#777" stroke-width="0.7"/>
<line x1="122.1" x2="122.1" y1="184.85" y2="182.05" stroke="#777" stroke-width="0.7"/>
<text x="122.1" y="330.7" text-anchor="middle" textLength="14.6" lengthAdjust="spacingAndGlyphs" class="tk">1925</text>
<line x1="128.33" x2="128.33" y1="321.2" y2="322.7" stroke="#777" stroke-width="0.7"/>
<line x1="128.33" x2="128.33" y1="184.85" y2="183.35" stroke="#777" stroke-width="0.7"/>
<line x1="134.56" x2="134.56" y1="321.2" y2="322.7" stroke="#777" stroke-width="0.7"/>
<line x1="134.56" x2="134.56" y1="184.85" y2="183.35" stroke="#777" stroke-width="0.7"/>
<line x1="140.8" x2="140.8" y1="321.2" y2="322.7" stroke="#777" stroke-width="0.7"/>
<line x1="140.8" x2="140.8" y1="184.85" y2="183.35" stroke="#777" stroke-width="0.7"/>
<line x1="147.03" x2="147.03" y1="321.2" y2="322.7" stroke="#777" stroke-width="0.7"/>
<line x1="147.03" x2="147.03" y1="184.85" y2="183.35" stroke="#777" stroke-width="0.7"/>
<line x1="153.26" x2="153.26" y1="321.2" y2="324" stroke="#777" stroke-width="0.7"/>
<line x1="153.26" x2="153.26" y1="184.85" y2="182.05" stroke="#777" stroke-width="0.7"/>
<text x="153.26" y="330.7" text-anchor="middle" textLength="14.6" lengthAdjust="spacingAndGlyphs" class="tk">1950</text>
<line x1="159.5" x2="159.5" y1="321.2" y2="322.7" stroke="#777" stroke-width="0.7"/>
<line x1="159.5" x2="159.5" y1="184.85" y2="183.35" stroke="#777" stroke-width="0.7"/>
<line x1="165.73" x2="165.73" y1="321.2" y2="322.7" stroke="#777" stroke-width="0.7"/>
<line x1="165.73" x2="165.73" y1="184.85" y2="183.35" stroke="#777" stroke-width="0.7"/>
<line x1="171.96" x2="171.96" y1="321.2" y2="322.7" stroke="#777" stroke-width="0.7"/>
<line x1="171.96" x2="171.96" y1="184.85" y2="183.35" stroke="#777" stroke-width="0.7"/>
<line x1="178.2" x2="178.2" y1="321.2" y2="322.7" stroke="#777" stroke-width="0.7"/>
<line x1="178.2" x2="178.2" y1="184.85" y2="183.35" stroke="#777" stroke-width="0.7"/>
<line x1="184.43" x2="184.43" y1="321.2" y2="324" stroke="#777" stroke-width="0.7"/>
<line x1="184.43" x2="184.43" y1="184.85" y2="182.05" stroke="#777" stroke-width="0.7"/>
<text x="184.43" y="330.7" text-anchor="middle" textLength="14.6" lengthAdjust="spacingAndGlyphs" class="tk">1975</text>
<line x1="190.66" x2="190.66" y1="321.2" y2="322.7" stroke="#777" stroke-width="0.7"/>
<line x1="190.66" x2="190.66" y1="184.85" y2="183.35" stroke="#777" stroke-width="0.7"/>
<line x1="196.9" x2="196.9" y1="321.2" y2="322.7" stroke="#777" stroke-width="0.7"/>
<line x1="196.9" x2="196.9" y1="184.85" y2="183.35" stroke="#777" stroke-width="0.7"/>
<line x1="203.13" x2="203.13" y1="321.2" y2="322.7" stroke="#777" stroke-width="0.7"/>
<line x1="203.13" x2="203.13" y1="184.85" y2="183.35" stroke="#777" stroke-width="0.7"/>
<line x1="209.36" x2="209.36" y1="321.2" y2="322.7" stroke="#777" stroke-width="0.7"/>
<line x1="209.36" x2="209.36" y1="184.85" y2="183.35" stroke="#777" stroke-width="0.7"/>
<line x1="215.6" x2="215.6" y1="321.2" y2="324" stroke="#777" stroke-width="0.7"/>
<line x1="215.6" x2="215.6" y1="184.85" y2="182.05" stroke="#777" stroke-width="0.7"/>
<text x="215.6" y="330.7" text-anchor="middle" textLength="14.6" lengthAdjust="spacingAndGlyphs" class="tk">2000</text>
<line x1="221.83" x2="221.83" y1="321.2" y2="322.7" stroke="#777" stroke-width="0.7"/>
<line x1="221.83" x2="221.83" y1="184.85" y2="183.35" stroke="#777" stroke-width="0.7"/>
<line x1="25.8" x2="28.6" y1="321.2" y2="321.2" stroke="#777" stroke-width="0.7"/>
<line x1="223.45" x2="226.25" y1="321.2" y2="321.2" stroke="#777" stroke-width="0.7"/>
<text x="23.5" y="323.1" text-anchor="end" textLength="13.8" lengthAdjust="spacingAndGlyphs" class="tk">−0.5</text>
<line x1="25.8" x2="28.6" y1="293.93" y2="293.93" stroke="#777" stroke-width="0.7"/>
<line x1="223.45" x2="226.25" y1="293.93" y2="293.93" stroke="#777" stroke-width="0.7"/>
<text x="23.5" y="295.83" text-anchor="end" textLength="9.4" lengthAdjust="spacingAndGlyphs" class="tk">0.0</text>
<line x1="25.8" x2="28.6" y1="266.66" y2="266.66" stroke="#777" stroke-width="0.7"/>
<line x1="223.45" x2="226.25" y1="266.66" y2="266.66" stroke="#777" stroke-width="0.7"/>
<text x="23.5" y="268.56" text-anchor="end" textLength="9.4" lengthAdjust="spacingAndGlyphs" class="tk">0.5</text>
<line x1="25.8" x2="28.6" y1="239.39" y2="239.39" stroke="#777" stroke-width="0.7"/>
<line x1="223.45" x2="226.25" y1="239.39" y2="239.39" stroke="#777" stroke-width="0.7"/>
<text x="23.5" y="241.29" text-anchor="end" textLength="9.4" lengthAdjust="spacingAndGlyphs" class="tk">1.0</text>
<line x1="25.8" x2="28.6" y1="212.12" y2="212.12" stroke="#777" stroke-width="0.7"/>
<line x1="223.45" x2="226.25" y1="212.12" y2="212.12" stroke="#777" stroke-width="0.7"/>
<text x="23.5" y="214.02" text-anchor="end" textLength="9.4" lengthAdjust="spacingAndGlyphs" class="tk">1.5</text>
<line x1="25.8" x2="28.6" y1="184.85" y2="184.85" stroke="#777" stroke-width="0.7"/>
<line x1="223.45" x2="226.25" y1="184.85" y2="184.85" stroke="#777" stroke-width="0.7"/>
<text x="23.5" y="186.75" text-anchor="end" textLength="9.4" lengthAdjust="spacingAndGlyphs" class="tk">2.0</text>
<text x="126.03" y="337.5" text-anchor="middle" textLength="13.6" lengthAdjust="spacingAndGlyphs" class="lb">Year</text>
<text x="126.03" y="178.55" text-anchor="middle" textLength="95.1" lengthAdjust="spacingAndGlyphs" class="tt">(d) Greenhouse Gases (GHG)</text>
<text transform="translate(6.4,253.02) rotate(-90)" text-anchor="middle" textLength="53.4" lengthAdjust="spacingAndGlyphs" class="lb">SAT Anomaly (°C)</text>
<clipPath id="clipe"><rect x="257.4" y="184.85" width="194.05" height="136.35"/></clipPath>
<g clip-path="url(#clipe)">
<rect x="324.94" y="184.85" width="71.14" height="136.35" fill="#d9d9ff"/>
<rect x="400.05" y="184.85" width="51.4" height="136.35" fill="#ffd9d9"/>
<polygon points="256.78,242.37 257.4,242.37 258.64,235.55 259.88,247.85 261.12,237.76 262.37,219.85 263.61,220.2 264.85,245.35 266.09,223.4 267.33,226.73 268.57,246.27 269.82,236.6 271.06,240.38 272.3,253.1 273.54,239.67 274.78,233.61 276.02,252.95 277.26,259.24 278.51,236.01 279.75,226.27 280.99,241.38 282.23,235.38 283.47,247.88 284.71,262.28 285.96,262 287.2,263.88 288.44,231.15 289.68,234.88 290.92,235.71 292.16,229.93 293.4,234.64 294.65,230.06 295.89,232.08 297.13,252.35 298.37,260.8 299.61,243.81 300.85,269.48 302.09,256.11 303.34,253.66 304.58,256.42 305.82,238.62 307.06,269.76 308.3,263.17 309.54,237 310.79,229.75 312.03,256.77 313.27,242.61 314.51,231.78 315.75,241.41 316.99,214.53 318.23,233.6 319.48,223.85 320.72,236.79 321.96,256.91 323.2,253.74 324.44,247.74 325.68,268.38 326.93,258.14 328.17,263.28 329.41,271.24 330.65,260.54 331.89,249.62 333.13,237.25 334.37,227.18 335.62,251.22 336.86,247 338.1,237.62 339.34,250.46 340.58,244.69 341.82,252.36 343.07,238.49 344.31,230.98 345.55,232.06 346.79,241.18 348.03,251.8 349.27,251.46 350.51,271.69 351.76,249.28 353,260.73 354.24,248.27 355.48,258.98 356.72,231.17 357.96,237.29 359.2,225.98 360.45,228.72 361.69,209.64 362.93,229.89 364.17,235.64 365.41,244.75 366.65,252.9 367.9,223.59 369.14,247.93 370.38,233.97 371.62,225.06 372.86,225.48 374.1,237.36 375.34,216.63 376.59,234.28 377.83,233.47 379.07,227.99 380.31,223.93 381.55,220.08 382.79,232.19 384.04,226.16 385.28,231.49 386.52,210.88 387.76,231.23 389,236.05 390.24,238.79 391.48,210.74 392.73,227.8 393.97,219.93 395.21,217.49 396.45,224.79 397.69,232.51 398.93,217.4 400.18,231.51 401.42,244.07 402.66,226.22 403.9,229.68 405.14,241.02 406.38,245.53 407.62,229.16 408.87,222.53 410.11,240.03 411.35,240.47 412.59,240.26 413.83,240.95 415.07,228.09 416.31,234.47 417.56,226.28 418.8,235.08 420.04,231.83 421.28,238.95 422.52,213.64 423.76,244.66 425.01,227.35 426.25,227.84 427.49,241.18 428.73,207.56 429.97,236.71 431.21,223.18 432.45,234.8 433.7,215.82 434.94,209.44 436.18,213.54 437.42,228.13 438.66,201.59 439.9,217.35 441.15,222.41 442.39,202.84 443.63,220.9 444.87,200.55 446.11,222.04 447.35,180.91 448.59,189.55 449.84,181.97 451.45,181.97 451.45,238.75 449.84,238.75 448.59,233.76 447.35,234.54 446.11,259.4 444.87,255.95 443.63,274.97 442.39,261.44 441.15,255.31 439.9,270.32 438.66,250.55 437.42,265.01 436.18,274.36 434.94,266.05 433.7,264.91 432.45,277.65 431.21,269.84 429.97,267.3 428.73,277.99 427.49,291.56 426.25,286.42 425.01,283.34 423.76,268.94 422.52,291.69 421.28,267.24 420.04,277.62 418.8,273.3 417.56,267.52 416.31,264.72 415.07,265.09 413.83,281.93 412.59,275.31 411.35,293.88 410.11,271.56 408.87,267.64 407.62,293.43 406.38,269.2 405.14,296.27 403.9,291.85 402.66,293.32 401.42,296.49 400.18,297.25 398.93,276.45 397.69,271.31 396.45,263.33 395.21,270.83 393.97,277.96 392.73,281.65 391.48,266.98 390.24,267.52 389,281.25 387.76,283.25 386.52,286.36 385.28,277.21 384.04,273.77 382.79,271.89 381.55,286.29 380.31,271.49 379.07,267.21 377.83,283.31 376.59,273.09 375.34,278.96 374.1,253.81 372.86,268.71 371.62,292.01 370.38,294.12 369.14,273.25 367.9,276.85 366.65,280.78 365.41,273.11 364.17,286.68 362.93,267.82 361.69,276.75 360.45,289.94 359.2,286.68 357.96,278.91 356.72,301.08 355.48,308.99 354.24,294.06 353,312.74 351.76,296.23 350.51,306.63 349.27,300.3 348.03,301.29 346.79,292.13 345.55,283.94 344.31,276.26 343.07,305.99 341.82,295.44 340.58,263.95 339.34,304.63 338.1,293.74 336.86,282.16 335.62,306.17 334.37,296.1 333.13,296.08 331.89,302.96 330.65,301.97 329.41,290.21 328.17,298.09 326.93,306.82 325.68,312.17 324.44,314.14 323.2,290.86 321.96,282.09 320.72,283.05 319.48,273.55 318.23,282.03 316.99,280.34 315.75,262.42 314.51,289.79 313.27,273.32 312.03,291.99 310.79,295.6 309.54,275.33 308.3,305.67 307.06,292.27 305.82,310.67 304.58,310.39 303.34,308.62 302.09,310 300.85,310.81 299.61,310.17 298.37,317.86 297.13,305.02 295.89,304.46 294.65,282.67 293.4,267.56 292.16,276.56 290.92,275.88 289.68,272.43 288.44,292.39 287.2,315.27 285.96,304.31 284.71,308.27 283.47,308.76 282.23,299.9 280.99,276.02 279.75,268.12 278.51,291.02 277.26,286.98 276.02,304.54 274.78,306.85 273.54,304.83 272.3,281.44 271.06,283.87 269.82,290.71 268.57,282.81 267.33,286.9 266.09,276.6 264.85,288.52 263.61,293.91 262.37,274.53 261.12,289.06 259.88,265.84 258.64,302.13 257.4,304.46 256.78,304.46" fill="#cd853f" fill-opacity="0.14" stroke="none"/>
<line x1="257.4" x2="451.45" y1="266.66" y2="266.66" stroke="#000" stroke-width="0.7" stroke-opacity="0.8"/>
<line x1="257.4" y1="275.55" x2="451.45" y2="229.08" stroke="#000" stroke-width="0.6" stroke-opacity="0.85" stroke-dasharray="2.4,1.5"/>
<line x1="257.4" y1="273.91" x2="451.45" y2="242.01" stroke="#cd853f" stroke-width="0.6" stroke-dasharray="2.4,1.5"/>
<text x="386.89" y="191.3" text-anchor="middle" textLength="48.6" lengthAdjust="spacingAndGlyphs" class="pl">Industrial Period</text>
<text x="355.05" y="206.7" text-anchor="middle" textLength="22.5" lengthAdjust="spacingAndGlyphs" class="pl">Period I</text>
<text x="418.43" y="206.7" text-anchor="middle" textLength="24.5" lengthAdjust="spacingAndGlyphs" class="pl">Period II</text>
<text x="290.11" y="223.05" text-anchor="middle" textLength="59.9" lengthAdjust="spacingAndGlyphs" class="pl">Pre-Industrial Period</text>
<polyline points="257.4,263.93 257.9,263.77 260.01,262.73 260.88,256.3 262.49,253.35 263.36,254.88 264.23,261.21 265.59,270.21 266.59,280.02 267.46,273.2 268.08,268.68 269.32,271.02 270.44,267.75 271.43,265.24 272.3,269.66 273.54,262.3 274.78,259.73 276.02,265.24 277.64,275.17 278.51,270.21 279.75,267.75 280.99,261.92 282.85,257.82 284.09,260.22 286.33,253.19 287.82,258.81 289.06,259.73 291.17,264.26 293.65,259.73 295.27,263.77 297,264.75 298.62,266.28 300.11,287.93 301.97,285.48 303.21,286.29 305.07,275.11 305.7,274.13 307.81,270.7 308.92,273.1 310.66,271.13 312.28,267.15 314.88,256.84 316.12,273.1 317.37,276.04 318.86,259.3 320.84,266.28 322.21,276.04 323.7,283.02 324.57,270.48 326.68,269.39 328.42,265.02 330.9,263.11 332.76,260.66 334,259.68 335.86,263.11 336.98,261.21 338.47,255.75 339.84,249.26 341.45,257.66 342.94,252.81 344.55,256.68 347.16,245.39 349.15,261.75 350.89,254.22 352.5,255.21 354.86,247.35 356.6,254.22 358.34,250.3 359.83,256.3 361.69,263.61 363.55,240.81 365.41,240.81 367.4,254.12 369.39,250.3 371.87,237.75 373.73,247.73 375.84,235.57 378.32,250.3 380.31,246.48 382.17,249.21 384.04,235.03 385.9,243.75 387.51,248.12 388.75,250.3 391.11,234.48 392.23,250.3 393.35,247.03 395.21,236.66 397.07,245.93 398.31,254.66 399.68,266.66 401.42,254.01 403.4,253.35 404.52,251.93 405.76,248.93 407,245.5 408.25,248.01 410.73,240.54 412.59,246.53 414.45,240.54 415.94,240.04 417.56,248.01 419.92,225.75 421.78,232.74 423.64,233.66 426.12,245.01 428.73,216.7 430.96,247.03 432.33,225.75 434.69,240.04 437.17,241.57 439.66,225.75 442.26,210.81 444.62,222.16 446.73,207.87 447.6,207.38 449.09,195.54 450.46,210.32" fill="none" stroke="#000" stroke-width="1.1" stroke-linejoin="round"/>
<polyline points="257.4,272.11 258.64,266.88 260.13,252.81 261.75,229.19 263.24,249.59 264.85,277.9 266.34,261.21 267.83,250.3 269.57,265.3 271.06,250.3 272.67,272.11 274.28,287.39 275.77,265.3 277.39,277.57 279,255.92 280.49,236.99 281.98,265.3 283.72,283.02 285.21,262.19 286.82,293.71 288.44,277.57 289.93,240.21 291.54,265.3 293.16,255.75 294.65,271.62 296.14,258.48 297.75,280.3 299.24,277.57 300.85,293.71 302.47,309.42 304.08,277.57 305.7,265.3 307.19,293.71 308.8,269.39 310.41,252.81 312.03,277.9 313.52,258.48 315.13,274.84 316.62,215.01 318.11,261.21 319.72,250.3 321.34,277.9 322.58,249.59 323.45,269.39 324.94,277.9 326.55,296.82 328.17,269.39 329.66,287.39 331.27,265.3 332.88,277.57 334.37,255.92 335.99,288.48 337.6,265.3 339.09,277.57 340.71,233.94 342.32,272.11 343.81,283.02 345.42,246.48 347.04,266.66 348.53,277.57 350.14,299.93 351.76,272.11 353.25,303.09 354.86,274.84 356.35,246.48 357.96,277.57 359.45,258.48 361.07,250.3 362.68,221.28 364.3,255.75 365.78,277.57 367.4,261.21 368.89,250.3 370.5,277.9 371.99,250.3 373.61,219.7 375.22,250.3 376.71,261.21 378.32,274.79 379.81,253.02 381.43,244.84 383.04,253.02 384.66,240.81 386.64,253.02 388.26,244.84 389.87,255.75 391.48,247.57 392.85,236.77 394.84,265.19 396.82,255.75 398.56,232.85 399.55,282.48 400.92,261.21 402.16,257.39 403.4,263.39 404.64,259.57 405.64,271.02 406.63,255.75 408,259.57 409.11,249.75 410.36,263.39 411.85,272.66 412.96,257.39 414.33,248.12 415.57,259.57 416.69,251.93 418.05,263.39 419.42,249.75 420.54,244.3 421.9,257.39 423.14,249.75 424.76,257.39 425.5,253.57 426.87,265.57 428.36,230.12 429.85,244.84 431.46,262.3 432.83,238.84 434.32,250.3 435.81,242.12 437.17,247.57 438.66,232.85 440.15,253.57 441.64,239.39 443.13,230.12 444.62,242.12 446.11,244.84 447.1,225.75 448.1,179.4 449.34,203.39 450.58,209.39" fill="none" stroke="#cd853f" stroke-width="1.15" stroke-linejoin="round"/>
</g>
<rect x="260.2" y="187.65" width="54" height="19.4" rx="1.2" fill="#fff" fill-opacity="0.8" stroke="#d8d8d8" stroke-width="0.6"/>
<line x1="262.4" x2="275.4" y1="192.5" y2="192.5" stroke="#444" stroke-width="1.3"/>
<line x1="262.4" x2="275.4" y1="201.2" y2="201.2" stroke="#cd853f" stroke-width="1.1"/>
<text x="279.6" y="194.8" text-anchor="start" textLength="32.5" lengthAdjust="spacingAndGlyphs" class="lg">HadCRUT5</text>
<text x="279.6" y="203.55" text-anchor="start" class="lg" style="fill:#cd853f;stroke:#cd853f">LU</text>
<rect x="257.4" y="184.85" width="194.05" height="136.35" fill="none" stroke="#777" stroke-width="0.9"/>
<line x1="257.4" x2="257.4" y1="321.2" y2="324" stroke="#777" stroke-width="0.7"/>
<line x1="257.4" x2="257.4" y1="184.85" y2="182.05" stroke="#777" stroke-width="0.7"/>
<text x="257.4" y="330.7" text-anchor="middle" textLength="14.6" lengthAdjust="spacingAndGlyphs" class="tk">1850</text>
<line x1="263.61" x2="263.61" y1="321.2" y2="322.7" stroke="#777" stroke-width="0.7"/>
<line x1="263.61" x2="263.61" y1="184.85" y2="183.35" stroke="#777" stroke-width="0.7"/>
<line x1="269.82" x2="269.82" y1="321.2" y2="322.7" stroke="#777" stroke-width="0.7"/>
<line x1="269.82" x2="269.82" y1="184.85" y2="183.35" stroke="#777" stroke-width="0.7"/>
<line x1="276.02" x2="276.02" y1="321.2" y2="322.7" stroke="#777" stroke-width="0.7"/>
<line x1="276.02" x2="276.02" y1="184.85" y2="183.35" stroke="#777" stroke-width="0.7"/>
<line x1="282.23" x2="282.23" y1="321.2" y2="322.7" stroke="#777" stroke-width="0.7"/>
<line x1="282.23" x2="282.23" y1="184.85" y2="183.35" stroke="#777" stroke-width="0.7"/>
<line x1="288.44" x2="288.44" y1="321.2" y2="324" stroke="#777" stroke-width="0.7"/>
<line x1="288.44" x2="288.44" y1="184.85" y2="182.05" stroke="#777" stroke-width="0.7"/>
<text x="288.44" y="330.7" text-anchor="middle" textLength="14.6" lengthAdjust="spacingAndGlyphs" class="tk">1875</text>
<line x1="294.65" x2="294.65" y1="321.2" y2="322.7" stroke="#777" stroke-width="0.7"/>
<line x1="294.65" x2="294.65" y1="184.85" y2="183.35" stroke="#777" stroke-width="0.7"/>
<line x1="300.85" x2="300.85" y1="321.2" y2="322.7" stroke="#777" stroke-width="0.7"/>
<line x1="300.85" x2="300.85" y1="184.85" y2="183.35" stroke="#777" stroke-width="0.7"/>
<line x1="307.06" x2="307.06" y1="321.2" y2="322.7" stroke="#777" stroke-width="0.7"/>
<line x1="307.06" x2="307.06" y1="184.85" y2="183.35" stroke="#777" stroke-width="0.7"/>
<line x1="313.27" x2="313.27" y1="321.2" y2="322.7" stroke="#777" stroke-width="0.7"/>
<line x1="313.27" x2="313.27" y1="184.85" y2="183.35" stroke="#777" stroke-width="0.7"/>
<line x1="319.48" x2="319.48" y1="321.2" y2="324" stroke="#777" stroke-width="0.7"/>
<line x1="319.48" x2="319.48" y1="184.85" y2="182.05" stroke="#777" stroke-width="0.7"/>
<text x="319.48" y="330.7" text-anchor="middle" textLength="14.6" lengthAdjust="spacingAndGlyphs" class="tk">1900</text>
<line x1="325.68" x2="325.68" y1="321.2" y2="322.7" stroke="#777" stroke-width="0.7"/>
<line x1="325.68" x2="325.68" y1="184.85" y2="183.35" stroke="#777" stroke-width="0.7"/>
<line x1="331.89" x2="331.89" y1="321.2" y2="322.7" stroke="#777" stroke-width="0.7"/>
<line x1="331.89" x2="331.89" y1="184.85" y2="183.35" stroke="#777" stroke-width="0.7"/>
<line x1="338.1" x2="338.1" y1="321.2" y2="322.7" stroke="#777" stroke-width="0.7"/>
<line x1="338.1" x2="338.1" y1="184.85" y2="183.35" stroke="#777" stroke-width="0.7"/>
<line x1="344.31" x2="344.31" y1="321.2" y2="322.7" stroke="#777" stroke-width="0.7"/>
<line x1="344.31" x2="344.31" y1="184.85" y2="183.35" stroke="#777" stroke-width="0.7"/>
<line x1="350.51" x2="350.51" y1="321.2" y2="324" stroke="#777" stroke-width="0.7"/>
<line x1="350.51" x2="350.51" y1="184.85" y2="182.05" stroke="#777" stroke-width="0.7"/>
<text x="350.51" y="330.7" text-anchor="middle" textLength="14.6" lengthAdjust="spacingAndGlyphs" class="tk">1925</text>
<line x1="356.72" x2="356.72" y1="321.2" y2="322.7" stroke="#777" stroke-width="0.7"/>
<line x1="356.72" x2="356.72" y1="184.85" y2="183.35" stroke="#777" stroke-width="0.7"/>
<line x1="362.93" x2="362.93" y1="321.2" y2="322.7" stroke="#777" stroke-width="0.7"/>
<line x1="362.93" x2="362.93" y1="184.85" y2="183.35" stroke="#777" stroke-width="0.7"/>
<line x1="369.14" x2="369.14" y1="321.2" y2="322.7" stroke="#777" stroke-width="0.7"/>
<line x1="369.14" x2="369.14" y1="184.85" y2="183.35" stroke="#777" stroke-width="0.7"/>
<line x1="375.34" x2="375.34" y1="321.2" y2="322.7" stroke="#777" stroke-width="0.7"/>
<line x1="375.34" x2="375.34" y1="184.85" y2="183.35" stroke="#777" stroke-width="0.7"/>
<line x1="381.55" x2="381.55" y1="321.2" y2="324" stroke="#777" stroke-width="0.7"/>
<line x1="381.55" x2="381.55" y1="184.85" y2="182.05" stroke="#777" stroke-width="0.7"/>
<text x="381.55" y="330.7" text-anchor="middle" textLength="14.6" lengthAdjust="spacingAndGlyphs" class="tk">1950</text>
<line x1="387.76" x2="387.76" y1="321.2" y2="322.7" stroke="#777" stroke-width="0.7"/>
<line x1="387.76" x2="387.76" y1="184.85" y2="183.35" stroke="#777" stroke-width="0.7"/>
<line x1="393.97" x2="393.97" y1="321.2" y2="322.7" stroke="#777" stroke-width="0.7"/>
<line x1="393.97" x2="393.97" y1="184.85" y2="183.35" stroke="#777" stroke-width="0.7"/>
<line x1="400.18" x2="400.18" y1="321.2" y2="322.7" stroke="#777" stroke-width="0.7"/>
<line x1="400.18" x2="400.18" y1="184.85" y2="183.35" stroke="#777" stroke-width="0.7"/>
<line x1="406.38" x2="406.38" y1="321.2" y2="322.7" stroke="#777" stroke-width="0.7"/>
<line x1="406.38" x2="406.38" y1="184.85" y2="183.35" stroke="#777" stroke-width="0.7"/>
<line x1="412.59" x2="412.59" y1="321.2" y2="324" stroke="#777" stroke-width="0.7"/>
<line x1="412.59" x2="412.59" y1="184.85" y2="182.05" stroke="#777" stroke-width="0.7"/>
<text x="412.59" y="330.7" text-anchor="middle" textLength="14.6" lengthAdjust="spacingAndGlyphs" class="tk">1975</text>
<line x1="418.8" x2="418.8" y1="321.2" y2="322.7" stroke="#777" stroke-width="0.7"/>
<line x1="418.8" x2="418.8" y1="184.85" y2="183.35" stroke="#777" stroke-width="0.7"/>
<line x1="425.01" x2="425.01" y1="321.2" y2="322.7" stroke="#777" stroke-width="0.7"/>
<line x1="425.01" x2="425.01" y1="184.85" y2="183.35" stroke="#777" stroke-width="0.7"/>
<line x1="431.21" x2="431.21" y1="321.2" y2="322.7" stroke="#777" stroke-width="0.7"/>
<line x1="431.21" x2="431.21" y1="184.85" y2="183.35" stroke="#777" stroke-width="0.7"/>
<line x1="437.42" x2="437.42" y1="321.2" y2="322.7" stroke="#777" stroke-width="0.7"/>
<line x1="437.42" x2="437.42" y1="184.85" y2="183.35" stroke="#777" stroke-width="0.7"/>
<line x1="443.63" x2="443.63" y1="321.2" y2="324" stroke="#777" stroke-width="0.7"/>
<line x1="443.63" x2="443.63" y1="184.85" y2="182.05" stroke="#777" stroke-width="0.7"/>
<text x="443.63" y="330.7" text-anchor="middle" textLength="14.6" lengthAdjust="spacingAndGlyphs" class="tk">2000</text>
<line x1="449.84" x2="449.84" y1="321.2" y2="322.7" stroke="#777" stroke-width="0.7"/>
<line x1="449.84" x2="449.84" y1="184.85" y2="183.35" stroke="#777" stroke-width="0.7"/>
<line x1="254.6" x2="257.4" y1="321.2" y2="321.2" stroke="#777" stroke-width="0.7"/>
<line x1="451.45" x2="454.25" y1="321.2" y2="321.2" stroke="#777" stroke-width="0.7"/>
<text x="252.3" y="323.1" text-anchor="end" textLength="13.8" lengthAdjust="spacingAndGlyphs" class="tk">−1.0</text>
<line x1="254.6" x2="257.4" y1="293.93" y2="293.93" stroke="#777" stroke-width="0.7"/>
<line x1="451.45" x2="454.25" y1="293.93" y2="293.93" stroke="#777" stroke-width="0.7"/>
<text x="252.3" y="295.83" text-anchor="end" textLength="13.8" lengthAdjust="spacingAndGlyphs" class="tk">−0.5</text>
<line x1="254.6" x2="257.4" y1="266.66" y2="266.66" stroke="#777" stroke-width="0.7"/>
<line x1="451.45" x2="454.25" y1="266.66" y2="266.66" stroke="#777" stroke-width="0.7"/>
<text x="252.3" y="268.56" text-anchor="end" textLength="9.4" lengthAdjust="spacingAndGlyphs" class="tk">0.0</text>
<line x1="254.6" x2="257.4" y1="239.39" y2="239.39" stroke="#777" stroke-width="0.7"/>
<line x1="451.45" x2="454.25" y1="239.39" y2="239.39" stroke="#777" stroke-width="0.7"/>
<text x="252.3" y="241.29" text-anchor="end" textLength="9.4" lengthAdjust="spacingAndGlyphs" class="tk">0.5</text>
<line x1="254.6" x2="257.4" y1="212.12" y2="212.12" stroke="#777" stroke-width="0.7"/>
<line x1="451.45" x2="454.25" y1="212.12" y2="212.12" stroke="#777" stroke-width="0.7"/>
<text x="252.3" y="214.02" text-anchor="end" textLength="9.4" lengthAdjust="spacingAndGlyphs" class="tk">1.0</text>
<line x1="254.6" x2="257.4" y1="184.85" y2="184.85" stroke="#777" stroke-width="0.7"/>
<line x1="451.45" x2="454.25" y1="184.85" y2="184.85" stroke="#777" stroke-width="0.7"/>
<text x="252.3" y="186.75" text-anchor="end" textLength="9.4" lengthAdjust="spacingAndGlyphs" class="tk">1.5</text>
<text x="354.42" y="337.5" text-anchor="middle" textLength="13.6" lengthAdjust="spacingAndGlyphs" class="lb">Year</text>
<text x="354.42" y="178.55" text-anchor="middle" textLength="58.1" lengthAdjust="spacingAndGlyphs" class="tt">(e) Land Use (LU)</text>
<text transform="translate(234,253.02) rotate(-90)" text-anchor="middle" textLength="53.4" lengthAdjust="spacingAndGlyphs" class="lb">SAT Anomaly (°C)</text>
<clipPath id="clipf"><rect x="485.4" y="184.85" width="194.2" height="136.35"/></clipPath>
<g clip-path="url(#clipf)">
<rect x="552.99" y="184.85" width="71.19" height="136.35" fill="#d9d9ff"/>
<rect x="628.16" y="184.85" width="51.44" height="136.35" fill="#ffd9d9"/>
<polygon points="484.78,263.03 485.4,263.03 486.64,259.35 487.88,268.56 489.13,269.94 490.37,282.78 491.61,266.08 492.85,275.02 494.1,278.82 495.34,279.72 496.58,267.43 497.82,274 499.07,258.69 500.31,273.18 501.55,279.78 502.79,265.05 504.04,280.09 505.28,261.01 506.52,267.14 507.76,271.42 509.01,270.13 510.25,267.88 511.49,268.14 512.73,252.21 513.98,257.73 515.22,273.51 516.46,273.3 517.7,265.09 518.95,263.71 520.19,265.6 521.43,269.93 522.67,270.39 523.92,261.61 525.16,265.75 526.4,283.84 527.64,292.96 528.89,297.2 530.13,290.78 531.37,298.32 532.61,284.28 533.86,287.18 535.1,278.18 536.34,275.78 537.58,287.32 538.83,274.54 540.07,274.97 541.31,264.9 542.55,263.44 543.8,252.27 545.04,279.19 546.28,277.92 547.52,277.29 548.77,277.17 550.01,278.59 551.25,298.55 552.49,294.52 553.74,285.83 554.98,283.73 556.22,290.46 557.46,278.1 558.71,272.45 559.95,277.66 561.19,284.94 562.43,270.11 563.68,278.96 564.92,274.83 566.16,282.12 567.4,272.59 568.65,278.19 569.89,277.97 571.13,281.61 572.37,272.41 573.62,272.38 574.86,267.68 576.1,268.72 577.34,271.92 578.59,278.46 579.83,271.23 581.07,272.01 582.31,262.72 583.56,260.96 584.8,268.15 586.04,263.86 587.28,257.17 588.53,269.07 589.77,272.55 591.01,269.99 592.25,267.13 593.5,283.34 594.74,282.73 595.98,282.59 597.22,271.23 598.47,268.69 599.71,270.66 600.95,268.63 602.19,271.81 603.44,274.93 604.68,262.15 605.92,257.55 607.16,270.66 608.41,279.76 609.65,284.1 610.89,274.7 612.13,272.16 613.38,271.2 614.62,269.47 615.86,266.97 617.1,268.63 618.35,259.44 619.59,276.77 620.83,262.44 622.07,271.26 623.32,267.23 624.56,278.12 625.8,258.3 627.04,279.48 628.29,276.48 629.53,281.88 630.77,278.65 632.01,287.83 633.26,293.39 634.5,276.69 635.74,273.49 636.98,273.19 638.23,269.73 639.47,269.38 640.71,283.94 641.95,274.25 643.2,268.33 644.44,278.31 645.68,275.95 646.92,267.61 648.17,277.86 649.41,273.95 650.65,286.69 651.89,291.38 653.14,274.19 654.38,285.51 655.62,272.63 656.86,264.46 658.11,268.69 659.35,278.69 660.59,280 661.83,292.46 663.07,295.85 664.32,282.54 665.56,278.7 666.8,271.84 668.04,284.93 669.29,271.15 670.53,269.85 671.77,263.1 673.01,263.08 674.26,260.31 675.5,265.63 676.74,259.17 677.98,255.4 679.6,255.4 679.6,288.48 677.98,288.48 676.74,285.56 675.5,289.34 674.26,283.36 673.01,286.39 671.77,292.34 670.53,293.16 669.29,298.5 668.04,305.05 666.8,297.97 665.56,301.16 664.32,314.47 663.07,330.72 661.83,315.99 660.59,307.31 659.35,302.14 658.11,296.07 656.86,292.76 655.62,307.68 654.38,310.16 653.14,299.53 651.89,319.99 650.65,305.17 649.41,302.6 648.17,291.58 646.92,291.16 645.68,301.83 644.44,295.15 643.2,292.61 641.95,306.06 640.71,295.38 639.47,289.1 638.23,285.14 636.98,294.55 635.74,302.28 634.5,304.69 633.26,314.29 632.01,310.75 630.77,303.63 629.53,306.93 628.29,311.57 627.04,298.91 625.8,288.5 624.56,304.95 623.32,289.9 622.07,284.37 620.83,281.01 619.59,296.17 618.35,284.29 617.1,294.61 615.86,283.67 614.62,297.06 613.38,292.75 612.13,300 610.89,306.84 609.65,306.8 608.41,292.71 607.16,292.32 605.92,290.61 604.68,290.37 603.44,295.78 602.19,300.33 600.95,288.28 599.71,293.05 598.47,284.02 597.22,284.92 595.98,293.48 594.74,315.6 593.5,301.71 592.25,297.23 591.01,287.47 589.77,303.72 588.53,287.09 587.28,293.76 586.04,294.91 584.8,292.91 583.56,290.77 582.31,285.15 581.07,296.84 579.83,288.85 578.59,292.12 577.34,294.35 576.1,283.23 574.86,298.58 573.62,295.18 572.37,291.26 571.13,301.86 569.89,306.28 568.65,306.11 567.4,298.07 566.16,307.14 564.92,303.9 563.68,307.56 562.43,306 561.19,304.61 559.95,308.56 558.71,303.54 557.46,295.2 556.22,312.35 554.98,313.63 553.74,321.85 552.49,322.8 551.25,314.13 550.01,317.16 548.77,301.29 547.52,303.66 546.28,308.44 545.04,295.75 543.8,279.88 542.55,283.65 541.31,292.96 540.07,303.87 538.83,297 537.58,301.28 536.34,311.9 535.1,302.17 533.86,317.15 532.61,313.18 531.37,312.24 530.13,314.86 528.89,318.16 527.64,326.04 526.4,305.49 525.16,292.43 523.92,300.24 522.67,296.48 521.43,290.36 520.19,293.01 518.95,292.86 517.7,292.45 516.46,296.98 515.22,297.66 513.98,293.73 512.73,277.36 511.49,288.85 510.25,285.86 509.01,282.09 507.76,296.62 506.52,288.31 505.28,286.69 504.04,304.75 502.79,297.06 501.55,295 500.31,284.03 499.07,285.33 497.82,299.29 496.58,299.21 495.34,299.76 494.1,300.27 492.85,293.45 491.61,296.56 490.37,314.15 489.13,305.67 487.88,286.5 486.64,286.11 485.4,284.93 484.78,284.93" fill="#008080" fill-opacity="0.17" stroke="none"/>
<line x1="485.4" x2="679.6" y1="287.11" y2="287.11" stroke="#000" stroke-width="0.7" stroke-opacity="0.8"/>
<line x1="485.4" y1="298.23" x2="679.6" y2="240.14" stroke="#000" stroke-width="0.6" stroke-opacity="0.85" stroke-dasharray="2.4,1.5"/>
<line x1="485.4" y1="284.82" x2="679.6" y2="287.53" stroke="#008080" stroke-width="0.6" stroke-dasharray="2.4,1.5"/>
<text x="614.99" y="193.05" text-anchor="middle" textLength="48.6" lengthAdjust="spacingAndGlyphs" class="pl">Industrial Period</text>
<text x="583.12" y="211.7" text-anchor="middle" textLength="22.5" lengthAdjust="spacingAndGlyphs" class="pl">Period I</text>
<text x="646.55" y="211.7" text-anchor="middle" textLength="24.5" lengthAdjust="spacingAndGlyphs" class="pl">Period II</text>
<text x="518.14" y="232.55" text-anchor="middle" textLength="59.9" lengthAdjust="spacingAndGlyphs" class="pl">Pre-Industrial Period</text>
<polyline points="485.4,283.7 485.9,283.5 488.01,282.2 488.88,274.16 490.49,270.48 491.36,272.39 492.23,280.3 493.6,291.54 494.59,303.82 495.46,295.29 496.09,289.63 497.33,292.57 498.45,288.48 499.44,285.34 500.31,290.86 501.55,281.66 502.79,278.45 504.04,285.34 505.65,297.75 506.52,291.54 507.76,288.48 509.01,281.18 510.87,276.07 512.11,279.07 514.35,270.27 515.84,277.3 517.08,278.45 519.2,284.11 521.68,278.45 523.3,283.5 525.04,284.73 526.65,286.64 528.14,313.7 530.01,310.63 531.25,311.66 533.11,297.68 533.73,296.45 535.84,292.16 536.96,295.16 538.7,292.7 540.32,287.73 542.93,274.84 544.17,295.16 545.41,298.84 546.9,277.91 548.89,286.64 550.26,298.84 551.75,307.56 552.62,291.88 554.73,290.52 556.47,285.07 558.95,282.68 560.82,279.61 562.06,278.39 563.92,282.68 565.04,280.3 566.53,273.48 567.9,265.36 569.52,275.86 571.01,269.8 572.62,274.64 575.23,260.52 577.22,280.98 578.96,271.57 580.57,272.8 582.93,262.98 584.67,271.57 586.41,266.66 587.9,274.16 589.77,283.29 591.63,254.8 593.5,254.8 595.48,271.43 597.47,266.66 599.96,250.98 601.82,263.46 603.93,248.25 606.42,266.66 608.41,261.89 610.27,265.3 612.13,247.57 614,258.48 615.61,263.93 616.85,266.66 619.22,246.89 620.33,266.66 621.45,262.57 623.32,249.62 625.18,261.21 626.42,272.11 627.79,287.11 629.53,271.3 631.52,270.48 632.63,268.71 633.88,264.96 635.12,260.66 636.36,263.8 638.85,254.46 640.71,261.96 642.57,254.46 644.07,253.84 645.68,263.8 648.04,235.98 649.9,244.71 651.77,245.87 654.25,260.05 656.86,224.66 659.1,262.57 660.47,235.98 662.83,253.84 665.31,255.75 667.8,235.98 670.41,217.3 672.77,231.48 674.88,213.62 675.75,213.01 677.24,198.21 678.61,216.69" fill="none" stroke="#000" stroke-width="1.1" stroke-linejoin="round"/>
<polyline points="485.4,276.89 486.02,273.27 487.51,274.84 489,283.5 489.87,304.84 491.36,283.7 492.85,281.18 495.09,293.66 496.33,276.89 497.58,288.48 498.94,276.68 500.56,280.3 501.55,290.52 502.55,281.18 504.04,290.52 505.65,267.55 507.14,280.3 508.63,273.48 510,283.7 511.49,272.18 513.11,263.05 514.47,280.3 515.84,283.7 517.33,276.89 518.82,283.5 520.44,276.89 522.3,283.7 524.17,280.3 526.03,285.75 527.4,302.66 528.39,318.47 529.63,299.25 531.62,304.16 532.86,295.98 534.6,299.25 536.34,293.25 538.21,293.93 539.57,287.11 541.06,280.3 542.55,270.96 543.67,269.86 544.67,283.7 545.91,298.16 547.52,291.2 549.14,293.25 550.88,303.88 552.25,306.07 553.24,308.38 554.61,299.25 556.22,300.07 557.84,283.5 559.08,290.25 560.69,293.66 562.43,290.52 564.05,289.16 565.79,292.57 567.53,286.84 569.14,289.16 570.88,286.84 572.62,281.18 573.74,285.07 575.36,274.36 577.22,284.59 578.83,283.02 580.33,276.68 582.31,280.3 584.43,273.27 586.17,276.89 587.78,272.18 589.4,284.59 591.26,278.93 593,293.66 594.61,304.97 596.23,287.11 597.97,273.27 599.09,272.11 600.83,282.34 602.57,290.25 604.31,278.93 605.92,274.36 607.54,283.7 609.28,290.25 610.89,289.84 612.75,286.84 614.49,280.09 616.11,269.86 617.72,278.93 619.46,282.34 621.33,270.96 622.94,281.18 624.43,286.84 625.8,277.77 627.42,293.66 629.03,300.47 630.4,291.34 631.89,303.88 633.5,297.07 635.37,290.52 637.11,284.59 638.72,277.77 640.21,287.11 641.7,293.66 643.2,288.48 644.81,283.5 646.55,287.11 648.41,281.18 650.03,290.52 651.64,304.97 652.89,293.93 654.5,290.25 656.24,285.07 657.98,275.52 659.35,283.7 660.59,294.75 662.45,317.45 664.19,301.57 665.81,293.93 667.42,286.84 668.79,293.66 670.41,287.11 671.9,280.09 673.76,278.93 675.62,276.68 677.12,268.77 678.73,272.18" fill="none" stroke="#008080" stroke-width="1.15" stroke-linejoin="round"/>
</g>
<rect x="488.2" y="187.65" width="54" height="19.4" rx="1.2" fill="#fff" fill-opacity="0.8" stroke="#d8d8d8" stroke-width="0.6"/>
<line x1="490.4" x2="503.4" y1="192.5" y2="192.5" stroke="#444" stroke-width="1.3"/>
<line x1="490.4" x2="503.4" y1="201.2" y2="201.2" stroke="#008080" stroke-width="1.1"/>
<text x="507.6" y="194.8" text-anchor="start" textLength="32.5" lengthAdjust="spacingAndGlyphs" class="lg">HadCRUT5</text>
<text x="507.6" y="203.55" text-anchor="start" class="lg" style="fill:#008080;stroke:#008080">NAT</text>
<rect x="485.4" y="184.85" width="194.2" height="136.35" fill="none" stroke="#777" stroke-width="0.9"/>
<line x1="485.4" x2="485.4" y1="321.2" y2="324" stroke="#777" stroke-width="0.7"/>
<line x1="485.4" x2="485.4" y1="184.85" y2="182.05" stroke="#777" stroke-width="0.7"/>
<text x="485.4" y="330.7" text-anchor="middle" textLength="14.6" lengthAdjust="spacingAndGlyphs" class="tk">1850</text>
<line x1="491.61" x2="491.61" y1="321.2" y2="322.7" stroke="#777" stroke-width="0.7"/>
<line x1="491.61" x2="491.61" y1="184.85" y2="183.35" stroke="#777" stroke-width="0.7"/>
<line x1="497.82" x2="497.82" y1="321.2" y2="322.7" stroke="#777" stroke-width="0.7"/>
<line x1="497.82" x2="497.82" y1="184.85" y2="183.35" stroke="#777" stroke-width="0.7"/>
<line x1="504.04" x2="504.04" y1="321.2" y2="322.7" stroke="#777" stroke-width="0.7"/>
<line x1="504.04" x2="504.04" y1="184.85" y2="183.35" stroke="#777" stroke-width="0.7"/>
<line x1="510.25" x2="510.25" y1="321.2" y2="322.7" stroke="#777" stroke-width="0.7"/>
<line x1="510.25" x2="510.25" y1="184.85" y2="183.35" stroke="#777" stroke-width="0.7"/>
<line x1="516.46" x2="516.46" y1="321.2" y2="324" stroke="#777" stroke-width="0.7"/>
<line x1="516.46" x2="516.46" y1="184.85" y2="182.05" stroke="#777" stroke-width="0.7"/>
<text x="516.46" y="330.7" text-anchor="middle" textLength="14.6" lengthAdjust="spacingAndGlyphs" class="tk">1875</text>
<line x1="522.67" x2="522.67" y1="321.2" y2="322.7" stroke="#777" stroke-width="0.7"/>
<line x1="522.67" x2="522.67" y1="184.85" y2="183.35" stroke="#777" stroke-width="0.7"/>
<line x1="528.89" x2="528.89" y1="321.2" y2="322.7" stroke="#777" stroke-width="0.7"/>
<line x1="528.89" x2="528.89" y1="184.85" y2="183.35" stroke="#777" stroke-width="0.7"/>
<line x1="535.1" x2="535.1" y1="321.2" y2="322.7" stroke="#777" stroke-width="0.7"/>
<line x1="535.1" x2="535.1" y1="184.85" y2="183.35" stroke="#777" stroke-width="0.7"/>
<line x1="541.31" x2="541.31" y1="321.2" y2="322.7" stroke="#777" stroke-width="0.7"/>
<line x1="541.31" x2="541.31" y1="184.85" y2="183.35" stroke="#777" stroke-width="0.7"/>
<line x1="547.52" x2="547.52" y1="321.2" y2="324" stroke="#777" stroke-width="0.7"/>
<line x1="547.52" x2="547.52" y1="184.85" y2="182.05" stroke="#777" stroke-width="0.7"/>
<text x="547.52" y="330.7" text-anchor="middle" textLength="14.6" lengthAdjust="spacingAndGlyphs" class="tk">1900</text>
<line x1="553.74" x2="553.74" y1="321.2" y2="322.7" stroke="#777" stroke-width="0.7"/>
<line x1="553.74" x2="553.74" y1="184.85" y2="183.35" stroke="#777" stroke-width="0.7"/>
<line x1="559.95" x2="559.95" y1="321.2" y2="322.7" stroke="#777" stroke-width="0.7"/>
<line x1="559.95" x2="559.95" y1="184.85" y2="183.35" stroke="#777" stroke-width="0.7"/>
<line x1="566.16" x2="566.16" y1="321.2" y2="322.7" stroke="#777" stroke-width="0.7"/>
<line x1="566.16" x2="566.16" y1="184.85" y2="183.35" stroke="#777" stroke-width="0.7"/>
<line x1="572.37" x2="572.37" y1="321.2" y2="322.7" stroke="#777" stroke-width="0.7"/>
<line x1="572.37" x2="572.37" y1="184.85" y2="183.35" stroke="#777" stroke-width="0.7"/>
<line x1="578.59" x2="578.59" y1="321.2" y2="324" stroke="#777" stroke-width="0.7"/>
<line x1="578.59" x2="578.59" y1="184.85" y2="182.05" stroke="#777" stroke-width="0.7"/>
<text x="578.59" y="330.7" text-anchor="middle" textLength="14.6" lengthAdjust="spacingAndGlyphs" class="tk">1925</text>
<line x1="584.8" x2="584.8" y1="321.2" y2="322.7" stroke="#777" stroke-width="0.7"/>
<line x1="584.8" x2="584.8" y1="184.85" y2="183.35" stroke="#777" stroke-width="0.7"/>
<line x1="591.01" x2="591.01" y1="321.2" y2="322.7" stroke="#777" stroke-width="0.7"/>
<line x1="591.01" x2="591.01" y1="184.85" y2="183.35" stroke="#777" stroke-width="0.7"/>
<line x1="597.22" x2="597.22" y1="321.2" y2="322.7" stroke="#777" stroke-width="0.7"/>
<line x1="597.22" x2="597.22" y1="184.85" y2="183.35" stroke="#777" stroke-width="0.7"/>
<line x1="603.44" x2="603.44" y1="321.2" y2="322.7" stroke="#777" stroke-width="0.7"/>
<line x1="603.44" x2="603.44" y1="184.85" y2="183.35" stroke="#777" stroke-width="0.7"/>
<line x1="609.65" x2="609.65" y1="321.2" y2="324" stroke="#777" stroke-width="0.7"/>
<line x1="609.65" x2="609.65" y1="184.85" y2="182.05" stroke="#777" stroke-width="0.7"/>
<text x="609.65" y="330.7" text-anchor="middle" textLength="14.6" lengthAdjust="spacingAndGlyphs" class="tk">1950</text>
<line x1="615.86" x2="615.86" y1="321.2" y2="322.7" stroke="#777" stroke-width="0.7"/>
<line x1="615.86" x2="615.86" y1="184.85" y2="183.35" stroke="#777" stroke-width="0.7"/>
<line x1="622.07" x2="622.07" y1="321.2" y2="322.7" stroke="#777" stroke-width="0.7"/>
<line x1="622.07" x2="622.07" y1="184.85" y2="183.35" stroke="#777" stroke-width="0.7"/>
<line x1="628.29" x2="628.29" y1="321.2" y2="322.7" stroke="#777" stroke-width="0.7"/>
<line x1="628.29" x2="628.29" y1="184.85" y2="183.35" stroke="#777" stroke-width="0.7"/>
<line x1="634.5" x2="634.5" y1="321.2" y2="322.7" stroke="#777" stroke-width="0.7"/>
<line x1="634.5" x2="634.5" y1="184.85" y2="183.35" stroke="#777" stroke-width="0.7"/>
<line x1="640.71" x2="640.71" y1="321.2" y2="324" stroke="#777" stroke-width="0.7"/>
<line x1="640.71" x2="640.71" y1="184.85" y2="182.05" stroke="#777" stroke-width="0.7"/>
<text x="640.71" y="330.7" text-anchor="middle" textLength="14.6" lengthAdjust="spacingAndGlyphs" class="tk">1975</text>
<line x1="646.92" x2="646.92" y1="321.2" y2="322.7" stroke="#777" stroke-width="0.7"/>
<line x1="646.92" x2="646.92" y1="184.85" y2="183.35" stroke="#777" stroke-width="0.7"/>
<line x1="653.14" x2="653.14" y1="321.2" y2="322.7" stroke="#777" stroke-width="0.7"/>
<line x1="653.14" x2="653.14" y1="184.85" y2="183.35" stroke="#777" stroke-width="0.7"/>
<line x1="659.35" x2="659.35" y1="321.2" y2="322.7" stroke="#777" stroke-width="0.7"/>
<line x1="659.35" x2="659.35" y1="184.85" y2="183.35" stroke="#777" stroke-width="0.7"/>
<line x1="665.56" x2="665.56" y1="321.2" y2="322.7" stroke="#777" stroke-width="0.7"/>
<line x1="665.56" x2="665.56" y1="184.85" y2="183.35" stroke="#777" stroke-width="0.7"/>
<line x1="671.77" x2="671.77" y1="321.2" y2="324" stroke="#777" stroke-width="0.7"/>
<line x1="671.77" x2="671.77" y1="184.85" y2="182.05" stroke="#777" stroke-width="0.7"/>
<text x="671.77" y="330.7" text-anchor="middle" textLength="14.6" lengthAdjust="spacingAndGlyphs" class="tk">2000</text>
<line x1="677.98" x2="677.98" y1="321.2" y2="322.7" stroke="#777" stroke-width="0.7"/>
<line x1="677.98" x2="677.98" y1="184.85" y2="183.35" stroke="#777" stroke-width="0.7"/>
<line x1="482.6" x2="485.4" y1="321.2" y2="321.2" stroke="#777" stroke-width="0.7"/>
<line x1="679.6" x2="682.4" y1="321.2" y2="321.2" stroke="#777" stroke-width="0.7"/>
<text x="480.3" y="323.1" text-anchor="end" textLength="13.8" lengthAdjust="spacingAndGlyphs" class="tk">−0.5</text>
<line x1="482.6" x2="485.4" y1="287.11" y2="287.11" stroke="#777" stroke-width="0.7"/>
<line x1="679.6" x2="682.4" y1="287.11" y2="287.11" stroke="#777" stroke-width="0.7"/>
<text x="480.3" y="289.01" text-anchor="end" textLength="9.4" lengthAdjust="spacingAndGlyphs" class="tk">0.0</text>
<line x1="482.6" x2="485.4" y1="253.02" y2="253.02" stroke="#777" stroke-width="0.7"/>
<line x1="679.6" x2="682.4" y1="253.02" y2="253.02" stroke="#777" stroke-width="0.7"/>
<text x="480.3" y="254.92" text-anchor="end" textLength="9.4" lengthAdjust="spacingAndGlyphs" class="tk">0.5</text>
<line x1="482.6" x2="485.4" y1="218.94" y2="218.94" stroke="#777" stroke-width="0.7"/>
<line x1="679.6" x2="682.4" y1="218.94" y2="218.94" stroke="#777" stroke-width="0.7"/>
<text x="480.3" y="220.84" text-anchor="end" textLength="9.4" lengthAdjust="spacingAndGlyphs" class="tk">1.0</text>
<line x1="482.6" x2="485.4" y1="184.85" y2="184.85" stroke="#777" stroke-width="0.7"/>
<line x1="679.6" x2="682.4" y1="184.85" y2="184.85" stroke="#777" stroke-width="0.7"/>
<text x="480.3" y="186.75" text-anchor="end" textLength="9.4" lengthAdjust="spacingAndGlyphs" class="tk">1.5</text>
<text x="582.5" y="337.5" text-anchor="middle" textLength="13.6" lengthAdjust="spacingAndGlyphs" class="lb">Year</text>
<text x="582.5" y="178.55" text-anchor="middle" textLength="55.3" lengthAdjust="spacingAndGlyphs" class="tt">(f) Natural (NAT)</text>
<text transform="translate(462,253.02) rotate(-90)" text-anchor="middle" textLength="53.4" lengthAdjust="spacingAndGlyphs" class="lb">SAT Anomaly (°C)</text>
</svg>
</body></html>
